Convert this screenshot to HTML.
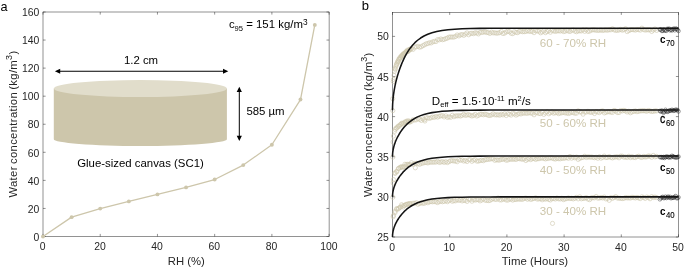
<!DOCTYPE html>
<html><head><meta charset="utf-8"><title>Figure</title>
<style>html,body{margin:0;padding:0;background:#fff;}body{width:685px;height:268px;overflow:hidden;}svg{display:block;will-change:transform;}text{font-family:"Liberation Sans",sans-serif;}</style>
</head><body>
<svg width="685" height="268" viewBox="0 0 685 268">
<rect x="0" y="0" width="685" height="268" fill="#ffffff"/>
<rect x="43.00" y="12.00" width="286.10" height="224.50" fill="none" stroke="#262626" stroke-width="0.5"/>
<path d="M43.00 236.50v-2.6M43.00 12.00v2.6M100.22 236.50v-2.6M100.22 12.00v2.6M157.44 236.50v-2.6M157.44 12.00v2.6M214.66 236.50v-2.6M214.66 12.00v2.6M271.88 236.50v-2.6M271.88 12.00v2.6M329.10 236.50v-2.6M329.10 12.00v2.6M43.00 236.50h2.6M329.10 236.50h-2.6M43.00 208.44h2.6M329.10 208.44h-2.6M43.00 180.38h2.6M329.10 180.38h-2.6M43.00 152.31h2.6M329.10 152.31h-2.6M43.00 124.25h2.6M329.10 124.25h-2.6M43.00 96.19h2.6M329.10 96.19h-2.6M43.00 68.12h2.6M329.10 68.12h-2.6M43.00 40.06h2.6M329.10 40.06h-2.6M43.00 12.00h2.6M329.10 12.00h-2.6" fill="none" stroke="#262626" stroke-width="0.5"/>
<path d="M53.8 88.6 L53.8 139.2 A86.55000000000001 6.9 0 0 0 226.9 139.2 L226.9 88.6 Z" fill="#cdc6ab"/>
<ellipse cx="140.35" cy="88.6" rx="86.55000000000001" ry="8.5" fill="#e1ddcb"/>
<polyline points="43.00,236.50 71.61,217.14 100.22,208.58 128.83,201.42 157.44,194.41 186.05,187.39 214.66,179.53 243.27,165.08 271.88,144.74 300.49,99.56 314.80,24.91" fill="none" stroke="#cdc6ab" stroke-width="1.3" stroke-linejoin="round"/>
<circle cx="43.00" cy="236.50" r="1.95" fill="#cdc6ab"/>
<circle cx="71.61" cy="217.14" r="1.95" fill="#cdc6ab"/>
<circle cx="100.22" cy="208.58" r="1.95" fill="#cdc6ab"/>
<circle cx="128.83" cy="201.42" r="1.95" fill="#cdc6ab"/>
<circle cx="157.44" cy="194.41" r="1.95" fill="#cdc6ab"/>
<circle cx="186.05" cy="187.39" r="1.95" fill="#cdc6ab"/>
<circle cx="214.66" cy="179.53" r="1.95" fill="#cdc6ab"/>
<circle cx="243.27" cy="165.08" r="1.95" fill="#cdc6ab"/>
<circle cx="271.88" cy="144.74" r="1.95" fill="#cdc6ab"/>
<circle cx="300.49" cy="99.56" r="1.95" fill="#cdc6ab"/>
<circle cx="314.80" cy="24.91" r="1.95" fill="#cdc6ab"/>
<text x="42.70" y="250.4" font-size="10.4" fill="#262626" text-anchor="middle">0</text>
<text x="99.92" y="250.4" font-size="10.4" fill="#262626" text-anchor="middle">20</text>
<text x="157.14" y="250.4" font-size="10.4" fill="#262626" text-anchor="middle">40</text>
<text x="214.36" y="250.4" font-size="10.4" fill="#262626" text-anchor="middle">60</text>
<text x="271.58" y="250.4" font-size="10.4" fill="#262626" text-anchor="middle">80</text>
<text x="328.80" y="250.4" font-size="10.4" fill="#262626" text-anchor="middle">100</text>
<text x="39.40" y="240.70" font-size="10.4" fill="#262626" text-anchor="end">0</text>
<text x="39.40" y="212.64" font-size="10.4" fill="#262626" text-anchor="end">20</text>
<text x="39.40" y="184.57" font-size="10.4" fill="#262626" text-anchor="end">40</text>
<text x="39.40" y="156.51" font-size="10.4" fill="#262626" text-anchor="end">60</text>
<text x="39.40" y="128.45" font-size="10.4" fill="#262626" text-anchor="end">80</text>
<text x="39.40" y="100.39" font-size="10.4" fill="#262626" text-anchor="end">100</text>
<text x="39.40" y="72.33" font-size="10.4" fill="#262626" text-anchor="end">120</text>
<text x="39.40" y="44.26" font-size="10.4" fill="#262626" text-anchor="end">140</text>
<text x="39.40" y="16.20" font-size="10.4" fill="#262626" text-anchor="end">160</text>
<text x="186.25" y="265.1" font-size="11.3" fill="#262626" text-anchor="middle">RH (%)</text>
<text transform="translate(17.4,197.6) rotate(-90)" font-size="11.3" fill="#262626" letter-spacing="0.33" word-spacing="-1.3">Water concentration (kg/m<tspan font-size="9" dy="-5.2">3</tspan><tspan dy="5.2">)</tspan></text>
<path d="M59.199999999999996 71.25H224.0" stroke="#000" stroke-width="1" fill="none"/><path d="M54.9 71.25l5.3 -2.6v5.2z M228.3 71.25l-5.3 -2.6v5.2z" fill="#000"/>
<path d="M239.3 91.1V136.7" stroke="#000" stroke-width="1" fill="none"/><path d="M239.3 86.8l-2.6 5.3h5.2z M239.3 141.0l-2.6 -5.3h5.2z" fill="#000"/>
<text x="141.0" y="64.4" font-size="11.4" fill="#000" text-anchor="middle">1.2 cm</text>
<text x="246.4" y="114.8" font-size="11.4" fill="#000">585 µm</text>
<text x="77.2" y="167" font-size="11.4" fill="#000">Glue-sized canvas (SC1)</text>
<text x="228.9" y="28.4" font-size="11.4" fill="#000">c<tspan font-size="7.6" dy="2.6">95</tspan><tspan dy="-2.6"> = 151 kg/m</tspan><tspan font-size="8.3" dy="-3.7">3</tspan></text>
<text x="0.5" y="10.8" font-size="12.7" fill="#000">a</text>
<rect x="392.50" y="12.30" width="286.00" height="224.70" fill="none" stroke="#262626" stroke-width="0.5"/>
<path d="M392.50 237.00v-2.6M392.50 12.30v2.6M449.70 237.00v-2.6M449.70 12.30v2.6M506.90 237.00v-2.6M506.90 12.30v2.6M564.10 237.00v-2.6M564.10 12.30v2.6M621.30 237.00v-2.6M621.30 12.30v2.6M678.50 237.00v-2.6M678.50 12.30v2.6M392.50 237.00h2.6M678.50 237.00h-2.6M392.50 196.88h2.6M678.50 196.88h-2.6M392.50 156.75h2.6M678.50 156.75h-2.6M392.50 116.62h2.6M678.50 116.62h-2.6M392.50 76.50h2.6M678.50 76.50h-2.6M392.50 36.38h2.6M678.50 36.38h-2.6" fill="none" stroke="#262626" stroke-width="0.5"/>
<path d="M391.38 79.46a2.1 2.1 0 1 0 4.2 0a2.1 2.1 0 1 0 -4.2 0M393.01 68.47a2.1 2.1 0 1 0 4.2 0a2.1 2.1 0 1 0 -4.2 0M394.65 64.18a2.1 2.1 0 1 0 4.2 0a2.1 2.1 0 1 0 -4.2 0M396.28 60.78a2.1 2.1 0 1 0 4.2 0a2.1 2.1 0 1 0 -4.2 0M397.92 58.23a2.1 2.1 0 1 0 4.2 0a2.1 2.1 0 1 0 -4.2 0M399.55 56.20a2.1 2.1 0 1 0 4.2 0a2.1 2.1 0 1 0 -4.2 0M401.19 53.91a2.1 2.1 0 1 0 4.2 0a2.1 2.1 0 1 0 -4.2 0M402.82 53.02a2.1 2.1 0 1 0 4.2 0a2.1 2.1 0 1 0 -4.2 0M404.45 51.38a2.1 2.1 0 1 0 4.2 0a2.1 2.1 0 1 0 -4.2 0M406.09 50.71a2.1 2.1 0 1 0 4.2 0a2.1 2.1 0 1 0 -4.2 0M407.72 49.49a2.1 2.1 0 1 0 4.2 0a2.1 2.1 0 1 0 -4.2 0M409.36 48.74a2.1 2.1 0 1 0 4.2 0a2.1 2.1 0 1 0 -4.2 0M410.99 49.34a2.1 2.1 0 1 0 4.2 0a2.1 2.1 0 1 0 -4.2 0M412.63 47.15a2.1 2.1 0 1 0 4.2 0a2.1 2.1 0 1 0 -4.2 0M414.26 46.83a2.1 2.1 0 1 0 4.2 0a2.1 2.1 0 1 0 -4.2 0M415.89 46.30a2.1 2.1 0 1 0 4.2 0a2.1 2.1 0 1 0 -4.2 0M417.53 47.19a2.1 2.1 0 1 0 4.2 0a2.1 2.1 0 1 0 -4.2 0M419.16 46.72a2.1 2.1 0 1 0 4.2 0a2.1 2.1 0 1 0 -4.2 0M420.80 45.64a2.1 2.1 0 1 0 4.2 0a2.1 2.1 0 1 0 -4.2 0M422.43 44.84a2.1 2.1 0 1 0 4.2 0a2.1 2.1 0 1 0 -4.2 0M424.07 43.83a2.1 2.1 0 1 0 4.2 0a2.1 2.1 0 1 0 -4.2 0M425.70 43.56a2.1 2.1 0 1 0 4.2 0a2.1 2.1 0 1 0 -4.2 0M427.33 42.70a2.1 2.1 0 1 0 4.2 0a2.1 2.1 0 1 0 -4.2 0M428.97 42.97a2.1 2.1 0 1 0 4.2 0a2.1 2.1 0 1 0 -4.2 0M430.60 41.89a2.1 2.1 0 1 0 4.2 0a2.1 2.1 0 1 0 -4.2 0M432.24 41.38a2.1 2.1 0 1 0 4.2 0a2.1 2.1 0 1 0 -4.2 0M433.87 41.60a2.1 2.1 0 1 0 4.2 0a2.1 2.1 0 1 0 -4.2 0M435.51 39.59a2.1 2.1 0 1 0 4.2 0a2.1 2.1 0 1 0 -4.2 0M437.14 39.87a2.1 2.1 0 1 0 4.2 0a2.1 2.1 0 1 0 -4.2 0M438.77 38.99a2.1 2.1 0 1 0 4.2 0a2.1 2.1 0 1 0 -4.2 0M440.41 39.70a2.1 2.1 0 1 0 4.2 0a2.1 2.1 0 1 0 -4.2 0M442.04 39.33a2.1 2.1 0 1 0 4.2 0a2.1 2.1 0 1 0 -4.2 0M443.68 38.63a2.1 2.1 0 1 0 4.2 0a2.1 2.1 0 1 0 -4.2 0M445.31 38.04a2.1 2.1 0 1 0 4.2 0a2.1 2.1 0 1 0 -4.2 0M446.95 37.14a2.1 2.1 0 1 0 4.2 0a2.1 2.1 0 1 0 -4.2 0M448.58 37.00a2.1 2.1 0 1 0 4.2 0a2.1 2.1 0 1 0 -4.2 0M450.21 37.09a2.1 2.1 0 1 0 4.2 0a2.1 2.1 0 1 0 -4.2 0M451.85 37.07a2.1 2.1 0 1 0 4.2 0a2.1 2.1 0 1 0 -4.2 0M453.48 36.44a2.1 2.1 0 1 0 4.2 0a2.1 2.1 0 1 0 -4.2 0M455.12 34.98a2.1 2.1 0 1 0 4.2 0a2.1 2.1 0 1 0 -4.2 0M456.75 35.94a2.1 2.1 0 1 0 4.2 0a2.1 2.1 0 1 0 -4.2 0M458.39 34.93a2.1 2.1 0 1 0 4.2 0a2.1 2.1 0 1 0 -4.2 0M460.02 34.49a2.1 2.1 0 1 0 4.2 0a2.1 2.1 0 1 0 -4.2 0M461.65 35.39a2.1 2.1 0 1 0 4.2 0a2.1 2.1 0 1 0 -4.2 0M463.29 34.08a2.1 2.1 0 1 0 4.2 0a2.1 2.1 0 1 0 -4.2 0M464.92 32.95a2.1 2.1 0 1 0 4.2 0a2.1 2.1 0 1 0 -4.2 0M466.56 34.77a2.1 2.1 0 1 0 4.2 0a2.1 2.1 0 1 0 -4.2 0M468.19 33.46a2.1 2.1 0 1 0 4.2 0a2.1 2.1 0 1 0 -4.2 0M469.83 33.27a2.1 2.1 0 1 0 4.2 0a2.1 2.1 0 1 0 -4.2 0M471.46 33.67a2.1 2.1 0 1 0 4.2 0a2.1 2.1 0 1 0 -4.2 0M473.09 32.77a2.1 2.1 0 1 0 4.2 0a2.1 2.1 0 1 0 -4.2 0M474.73 33.08a2.1 2.1 0 1 0 4.2 0a2.1 2.1 0 1 0 -4.2 0M476.36 33.92a2.1 2.1 0 1 0 4.2 0a2.1 2.1 0 1 0 -4.2 0M478.00 32.40a2.1 2.1 0 1 0 4.2 0a2.1 2.1 0 1 0 -4.2 0M479.63 32.45a2.1 2.1 0 1 0 4.2 0a2.1 2.1 0 1 0 -4.2 0M481.27 32.22a2.1 2.1 0 1 0 4.2 0a2.1 2.1 0 1 0 -4.2 0M482.90 31.85a2.1 2.1 0 1 0 4.2 0a2.1 2.1 0 1 0 -4.2 0M484.53 32.49a2.1 2.1 0 1 0 4.2 0a2.1 2.1 0 1 0 -4.2 0M486.17 32.60a2.1 2.1 0 1 0 4.2 0a2.1 2.1 0 1 0 -4.2 0M487.80 33.46a2.1 2.1 0 1 0 4.2 0a2.1 2.1 0 1 0 -4.2 0M489.44 32.18a2.1 2.1 0 1 0 4.2 0a2.1 2.1 0 1 0 -4.2 0M491.07 32.92a2.1 2.1 0 1 0 4.2 0a2.1 2.1 0 1 0 -4.2 0M492.71 32.77a2.1 2.1 0 1 0 4.2 0a2.1 2.1 0 1 0 -4.2 0M494.34 33.24a2.1 2.1 0 1 0 4.2 0a2.1 2.1 0 1 0 -4.2 0M495.97 33.00a2.1 2.1 0 1 0 4.2 0a2.1 2.1 0 1 0 -4.2 0M497.61 32.67a2.1 2.1 0 1 0 4.2 0a2.1 2.1 0 1 0 -4.2 0M499.24 31.46a2.1 2.1 0 1 0 4.2 0a2.1 2.1 0 1 0 -4.2 0M500.88 33.54a2.1 2.1 0 1 0 4.2 0a2.1 2.1 0 1 0 -4.2 0M502.51 33.13a2.1 2.1 0 1 0 4.2 0a2.1 2.1 0 1 0 -4.2 0M504.15 31.99a2.1 2.1 0 1 0 4.2 0a2.1 2.1 0 1 0 -4.2 0M505.78 31.18a2.1 2.1 0 1 0 4.2 0a2.1 2.1 0 1 0 -4.2 0M507.41 31.71a2.1 2.1 0 1 0 4.2 0a2.1 2.1 0 1 0 -4.2 0M509.05 33.27a2.1 2.1 0 1 0 4.2 0a2.1 2.1 0 1 0 -4.2 0M510.68 33.63a2.1 2.1 0 1 0 4.2 0a2.1 2.1 0 1 0 -4.2 0M512.32 31.76a2.1 2.1 0 1 0 4.2 0a2.1 2.1 0 1 0 -4.2 0M513.95 32.43a2.1 2.1 0 1 0 4.2 0a2.1 2.1 0 1 0 -4.2 0M515.59 32.65a2.1 2.1 0 1 0 4.2 0a2.1 2.1 0 1 0 -4.2 0M517.22 31.27a2.1 2.1 0 1 0 4.2 0a2.1 2.1 0 1 0 -4.2 0M518.85 31.16a2.1 2.1 0 1 0 4.2 0a2.1 2.1 0 1 0 -4.2 0M520.49 31.74a2.1 2.1 0 1 0 4.2 0a2.1 2.1 0 1 0 -4.2 0M522.12 31.66a2.1 2.1 0 1 0 4.2 0a2.1 2.1 0 1 0 -4.2 0M523.76 31.51a2.1 2.1 0 1 0 4.2 0a2.1 2.1 0 1 0 -4.2 0M525.39 30.73a2.1 2.1 0 1 0 4.2 0a2.1 2.1 0 1 0 -4.2 0M527.03 31.33a2.1 2.1 0 1 0 4.2 0a2.1 2.1 0 1 0 -4.2 0M528.66 31.37a2.1 2.1 0 1 0 4.2 0a2.1 2.1 0 1 0 -4.2 0M530.29 31.32a2.1 2.1 0 1 0 4.2 0a2.1 2.1 0 1 0 -4.2 0M531.93 32.65a2.1 2.1 0 1 0 4.2 0a2.1 2.1 0 1 0 -4.2 0M533.56 30.80a2.1 2.1 0 1 0 4.2 0a2.1 2.1 0 1 0 -4.2 0M535.20 30.98a2.1 2.1 0 1 0 4.2 0a2.1 2.1 0 1 0 -4.2 0M536.83 31.22a2.1 2.1 0 1 0 4.2 0a2.1 2.1 0 1 0 -4.2 0M538.47 32.80a2.1 2.1 0 1 0 4.2 0a2.1 2.1 0 1 0 -4.2 0M540.10 31.92a2.1 2.1 0 1 0 4.2 0a2.1 2.1 0 1 0 -4.2 0M541.73 30.94a2.1 2.1 0 1 0 4.2 0a2.1 2.1 0 1 0 -4.2 0M543.37 32.62a2.1 2.1 0 1 0 4.2 0a2.1 2.1 0 1 0 -4.2 0M545.00 31.55a2.1 2.1 0 1 0 4.2 0a2.1 2.1 0 1 0 -4.2 0M546.64 30.75a2.1 2.1 0 1 0 4.2 0a2.1 2.1 0 1 0 -4.2 0M548.27 32.22a2.1 2.1 0 1 0 4.2 0a2.1 2.1 0 1 0 -4.2 0M549.91 30.31a2.1 2.1 0 1 0 4.2 0a2.1 2.1 0 1 0 -4.2 0M551.54 30.95a2.1 2.1 0 1 0 4.2 0a2.1 2.1 0 1 0 -4.2 0M553.17 31.37a2.1 2.1 0 1 0 4.2 0a2.1 2.1 0 1 0 -4.2 0M554.81 31.03a2.1 2.1 0 1 0 4.2 0a2.1 2.1 0 1 0 -4.2 0M556.44 30.79a2.1 2.1 0 1 0 4.2 0a2.1 2.1 0 1 0 -4.2 0M558.08 31.09a2.1 2.1 0 1 0 4.2 0a2.1 2.1 0 1 0 -4.2 0M559.71 30.40a2.1 2.1 0 1 0 4.2 0a2.1 2.1 0 1 0 -4.2 0M561.35 31.53a2.1 2.1 0 1 0 4.2 0a2.1 2.1 0 1 0 -4.2 0M562.98 31.33a2.1 2.1 0 1 0 4.2 0a2.1 2.1 0 1 0 -4.2 0M564.61 30.36a2.1 2.1 0 1 0 4.2 0a2.1 2.1 0 1 0 -4.2 0M566.25 30.98a2.1 2.1 0 1 0 4.2 0a2.1 2.1 0 1 0 -4.2 0M567.88 31.53a2.1 2.1 0 1 0 4.2 0a2.1 2.1 0 1 0 -4.2 0M569.52 30.33a2.1 2.1 0 1 0 4.2 0a2.1 2.1 0 1 0 -4.2 0M571.15 29.96a2.1 2.1 0 1 0 4.2 0a2.1 2.1 0 1 0 -4.2 0M572.79 31.15a2.1 2.1 0 1 0 4.2 0a2.1 2.1 0 1 0 -4.2 0M574.42 31.72a2.1 2.1 0 1 0 4.2 0a2.1 2.1 0 1 0 -4.2 0M576.05 30.89a2.1 2.1 0 1 0 4.2 0a2.1 2.1 0 1 0 -4.2 0M577.69 30.87a2.1 2.1 0 1 0 4.2 0a2.1 2.1 0 1 0 -4.2 0M579.32 30.93a2.1 2.1 0 1 0 4.2 0a2.1 2.1 0 1 0 -4.2 0M580.96 29.81a2.1 2.1 0 1 0 4.2 0a2.1 2.1 0 1 0 -4.2 0M582.59 31.33a2.1 2.1 0 1 0 4.2 0a2.1 2.1 0 1 0 -4.2 0M584.23 29.83a2.1 2.1 0 1 0 4.2 0a2.1 2.1 0 1 0 -4.2 0M585.86 31.43a2.1 2.1 0 1 0 4.2 0a2.1 2.1 0 1 0 -4.2 0M587.49 31.09a2.1 2.1 0 1 0 4.2 0a2.1 2.1 0 1 0 -4.2 0M589.13 30.14a2.1 2.1 0 1 0 4.2 0a2.1 2.1 0 1 0 -4.2 0M590.76 29.79a2.1 2.1 0 1 0 4.2 0a2.1 2.1 0 1 0 -4.2 0M592.40 29.94a2.1 2.1 0 1 0 4.2 0a2.1 2.1 0 1 0 -4.2 0M594.03 30.23a2.1 2.1 0 1 0 4.2 0a2.1 2.1 0 1 0 -4.2 0M595.67 30.33a2.1 2.1 0 1 0 4.2 0a2.1 2.1 0 1 0 -4.2 0M597.30 30.30a2.1 2.1 0 1 0 4.2 0a2.1 2.1 0 1 0 -4.2 0M598.93 29.99a2.1 2.1 0 1 0 4.2 0a2.1 2.1 0 1 0 -4.2 0M600.57 30.45a2.1 2.1 0 1 0 4.2 0a2.1 2.1 0 1 0 -4.2 0M602.20 30.12a2.1 2.1 0 1 0 4.2 0a2.1 2.1 0 1 0 -4.2 0M603.84 29.90a2.1 2.1 0 1 0 4.2 0a2.1 2.1 0 1 0 -4.2 0M605.47 30.24a2.1 2.1 0 1 0 4.2 0a2.1 2.1 0 1 0 -4.2 0M607.11 29.72a2.1 2.1 0 1 0 4.2 0a2.1 2.1 0 1 0 -4.2 0M608.74 29.82a2.1 2.1 0 1 0 4.2 0a2.1 2.1 0 1 0 -4.2 0M610.37 28.86a2.1 2.1 0 1 0 4.2 0a2.1 2.1 0 1 0 -4.2 0M612.01 29.91a2.1 2.1 0 1 0 4.2 0a2.1 2.1 0 1 0 -4.2 0M613.64 30.37a2.1 2.1 0 1 0 4.2 0a2.1 2.1 0 1 0 -4.2 0M615.28 30.30a2.1 2.1 0 1 0 4.2 0a2.1 2.1 0 1 0 -4.2 0M616.91 30.04a2.1 2.1 0 1 0 4.2 0a2.1 2.1 0 1 0 -4.2 0M618.55 29.41a2.1 2.1 0 1 0 4.2 0a2.1 2.1 0 1 0 -4.2 0M620.18 30.20a2.1 2.1 0 1 0 4.2 0a2.1 2.1 0 1 0 -4.2 0M621.81 29.72a2.1 2.1 0 1 0 4.2 0a2.1 2.1 0 1 0 -4.2 0M623.45 28.77a2.1 2.1 0 1 0 4.2 0a2.1 2.1 0 1 0 -4.2 0M625.08 31.58a2.1 2.1 0 1 0 4.2 0a2.1 2.1 0 1 0 -4.2 0M626.72 30.64a2.1 2.1 0 1 0 4.2 0a2.1 2.1 0 1 0 -4.2 0M628.35 29.74a2.1 2.1 0 1 0 4.2 0a2.1 2.1 0 1 0 -4.2 0M629.99 29.62a2.1 2.1 0 1 0 4.2 0a2.1 2.1 0 1 0 -4.2 0M631.62 29.71a2.1 2.1 0 1 0 4.2 0a2.1 2.1 0 1 0 -4.2 0M633.25 30.12a2.1 2.1 0 1 0 4.2 0a2.1 2.1 0 1 0 -4.2 0M634.89 29.41a2.1 2.1 0 1 0 4.2 0a2.1 2.1 0 1 0 -4.2 0M636.52 29.63a2.1 2.1 0 1 0 4.2 0a2.1 2.1 0 1 0 -4.2 0M638.16 30.13a2.1 2.1 0 1 0 4.2 0a2.1 2.1 0 1 0 -4.2 0M639.79 28.22a2.1 2.1 0 1 0 4.2 0a2.1 2.1 0 1 0 -4.2 0M641.43 29.54a2.1 2.1 0 1 0 4.2 0a2.1 2.1 0 1 0 -4.2 0M643.06 30.10a2.1 2.1 0 1 0 4.2 0a2.1 2.1 0 1 0 -4.2 0M644.69 29.79a2.1 2.1 0 1 0 4.2 0a2.1 2.1 0 1 0 -4.2 0M646.33 29.86a2.1 2.1 0 1 0 4.2 0a2.1 2.1 0 1 0 -4.2 0M647.96 29.74a2.1 2.1 0 1 0 4.2 0a2.1 2.1 0 1 0 -4.2 0M649.60 31.43a2.1 2.1 0 1 0 4.2 0a2.1 2.1 0 1 0 -4.2 0M651.23 29.98a2.1 2.1 0 1 0 4.2 0a2.1 2.1 0 1 0 -4.2 0M652.87 29.00a2.1 2.1 0 1 0 4.2 0a2.1 2.1 0 1 0 -4.2 0M654.50 30.38a2.1 2.1 0 1 0 4.2 0a2.1 2.1 0 1 0 -4.2 0M390.63 98.72a2.1 2.1 0 1 0 4.2 0a2.1 2.1 0 1 0 -4.2 0M391.24 81.51a2.1 2.1 0 1 0 4.2 0a2.1 2.1 0 1 0 -4.2 0M391.85 75.33a2.1 2.1 0 1 0 4.2 0a2.1 2.1 0 1 0 -4.2 0M392.46 71.15a2.1 2.1 0 1 0 4.2 0a2.1 2.1 0 1 0 -4.2 0M393.07 69.35a2.1 2.1 0 1 0 4.2 0a2.1 2.1 0 1 0 -4.2 0M393.68 66.60a2.1 2.1 0 1 0 4.2 0a2.1 2.1 0 1 0 -4.2 0M394.29 65.06a2.1 2.1 0 1 0 4.2 0a2.1 2.1 0 1 0 -4.2 0M394.90 63.18a2.1 2.1 0 1 0 4.2 0a2.1 2.1 0 1 0 -4.2 0M395.51 61.63a2.1 2.1 0 1 0 4.2 0a2.1 2.1 0 1 0 -4.2 0M396.12 62.20a2.1 2.1 0 1 0 4.2 0a2.1 2.1 0 1 0 -4.2 0M396.73 59.20a2.1 2.1 0 1 0 4.2 0a2.1 2.1 0 1 0 -4.2 0M397.34 59.30a2.1 2.1 0 1 0 4.2 0a2.1 2.1 0 1 0 -4.2 0M397.95 57.27a2.1 2.1 0 1 0 4.2 0a2.1 2.1 0 1 0 -4.2 0M398.56 57.72a2.1 2.1 0 1 0 4.2 0a2.1 2.1 0 1 0 -4.2 0M399.17 56.33a2.1 2.1 0 1 0 4.2 0a2.1 2.1 0 1 0 -4.2 0M399.78 55.28a2.1 2.1 0 1 0 4.2 0a2.1 2.1 0 1 0 -4.2 0M400.39 55.38a2.1 2.1 0 1 0 4.2 0a2.1 2.1 0 1 0 -4.2 0M401.00 54.69a2.1 2.1 0 1 0 4.2 0a2.1 2.1 0 1 0 -4.2 0M401.61 53.88a2.1 2.1 0 1 0 4.2 0a2.1 2.1 0 1 0 -4.2 0M402.22 53.70a2.1 2.1 0 1 0 4.2 0a2.1 2.1 0 1 0 -4.2 0M402.83 53.33a2.1 2.1 0 1 0 4.2 0a2.1 2.1 0 1 0 -4.2 0M403.44 52.07a2.1 2.1 0 1 0 4.2 0a2.1 2.1 0 1 0 -4.2 0M404.05 51.84a2.1 2.1 0 1 0 4.2 0a2.1 2.1 0 1 0 -4.2 0M404.66 52.03a2.1 2.1 0 1 0 4.2 0a2.1 2.1 0 1 0 -4.2 0M405.27 50.13a2.1 2.1 0 1 0 4.2 0a2.1 2.1 0 1 0 -4.2 0M405.88 51.56a2.1 2.1 0 1 0 4.2 0a2.1 2.1 0 1 0 -4.2 0M406.49 50.15a2.1 2.1 0 1 0 4.2 0a2.1 2.1 0 1 0 -4.2 0M407.10 50.30a2.1 2.1 0 1 0 4.2 0a2.1 2.1 0 1 0 -4.2 0M407.71 49.69a2.1 2.1 0 1 0 4.2 0a2.1 2.1 0 1 0 -4.2 0M408.32 49.01a2.1 2.1 0 1 0 4.2 0a2.1 2.1 0 1 0 -4.2 0M390.69 110.61a2.1 2.1 0 1 0 4.2 0a2.1 2.1 0 1 0 -4.2 0" fill="none" stroke="#cdc6ab" stroke-width="0.6" stroke-opacity="1"/>
<path d="M658.06 29.65a1.85 1.85 0 1 0 3.7 0a1.85 1.85 0 1 0 -3.7 0M658.99 29.35a1.85 1.85 0 1 0 3.7 0a1.85 1.85 0 1 0 -3.7 0M659.92 30.82a1.85 1.85 0 1 0 3.7 0a1.85 1.85 0 1 0 -3.7 0M660.85 30.80a1.85 1.85 0 1 0 3.7 0a1.85 1.85 0 1 0 -3.7 0M661.78 29.34a1.85 1.85 0 1 0 3.7 0a1.85 1.85 0 1 0 -3.7 0M662.71 30.41a1.85 1.85 0 1 0 3.7 0a1.85 1.85 0 1 0 -3.7 0M663.64 30.45a1.85 1.85 0 1 0 3.7 0a1.85 1.85 0 1 0 -3.7 0M664.57 30.74a1.85 1.85 0 1 0 3.7 0a1.85 1.85 0 1 0 -3.7 0M665.50 28.86a1.85 1.85 0 1 0 3.7 0a1.85 1.85 0 1 0 -3.7 0M666.43 29.21a1.85 1.85 0 1 0 3.7 0a1.85 1.85 0 1 0 -3.7 0M667.35 28.70a1.85 1.85 0 1 0 3.7 0a1.85 1.85 0 1 0 -3.7 0M668.28 30.34a1.85 1.85 0 1 0 3.7 0a1.85 1.85 0 1 0 -3.7 0M669.21 29.69a1.85 1.85 0 1 0 3.7 0a1.85 1.85 0 1 0 -3.7 0M670.14 30.46a1.85 1.85 0 1 0 3.7 0a1.85 1.85 0 1 0 -3.7 0M671.07 29.15a1.85 1.85 0 1 0 3.7 0a1.85 1.85 0 1 0 -3.7 0M672.00 28.58a1.85 1.85 0 1 0 3.7 0a1.85 1.85 0 1 0 -3.7 0M672.93 30.26a1.85 1.85 0 1 0 3.7 0a1.85 1.85 0 1 0 -3.7 0M673.86 28.58a1.85 1.85 0 1 0 3.7 0a1.85 1.85 0 1 0 -3.7 0M674.79 28.96a1.85 1.85 0 1 0 3.7 0a1.85 1.85 0 1 0 -3.7 0M675.72 29.75a1.85 1.85 0 1 0 3.7 0a1.85 1.85 0 1 0 -3.7 0M676.65 30.96a1.85 1.85 0 1 0 3.7 0a1.85 1.85 0 1 0 -3.7 0" fill="none" stroke="#1a1a1a" stroke-width="0.4"/>
<path d="M391.38 136.06a2.1 2.1 0 1 0 4.2 0a2.1 2.1 0 1 0 -4.2 0M393.01 129.50a2.1 2.1 0 1 0 4.2 0a2.1 2.1 0 1 0 -4.2 0M394.65 128.04a2.1 2.1 0 1 0 4.2 0a2.1 2.1 0 1 0 -4.2 0M396.28 126.07a2.1 2.1 0 1 0 4.2 0a2.1 2.1 0 1 0 -4.2 0M397.92 124.91a2.1 2.1 0 1 0 4.2 0a2.1 2.1 0 1 0 -4.2 0M399.55 123.29a2.1 2.1 0 1 0 4.2 0a2.1 2.1 0 1 0 -4.2 0M401.19 124.07a2.1 2.1 0 1 0 4.2 0a2.1 2.1 0 1 0 -4.2 0M402.82 121.91a2.1 2.1 0 1 0 4.2 0a2.1 2.1 0 1 0 -4.2 0M404.45 121.17a2.1 2.1 0 1 0 4.2 0a2.1 2.1 0 1 0 -4.2 0M406.09 120.73a2.1 2.1 0 1 0 4.2 0a2.1 2.1 0 1 0 -4.2 0M407.72 121.34a2.1 2.1 0 1 0 4.2 0a2.1 2.1 0 1 0 -4.2 0M409.36 121.28a2.1 2.1 0 1 0 4.2 0a2.1 2.1 0 1 0 -4.2 0M410.99 119.80a2.1 2.1 0 1 0 4.2 0a2.1 2.1 0 1 0 -4.2 0M412.63 120.07a2.1 2.1 0 1 0 4.2 0a2.1 2.1 0 1 0 -4.2 0M414.26 119.76a2.1 2.1 0 1 0 4.2 0a2.1 2.1 0 1 0 -4.2 0M415.89 118.63a2.1 2.1 0 1 0 4.2 0a2.1 2.1 0 1 0 -4.2 0M417.53 119.43a2.1 2.1 0 1 0 4.2 0a2.1 2.1 0 1 0 -4.2 0M419.16 120.46a2.1 2.1 0 1 0 4.2 0a2.1 2.1 0 1 0 -4.2 0M420.80 118.96a2.1 2.1 0 1 0 4.2 0a2.1 2.1 0 1 0 -4.2 0M422.43 119.67a2.1 2.1 0 1 0 4.2 0a2.1 2.1 0 1 0 -4.2 0M424.07 117.77a2.1 2.1 0 1 0 4.2 0a2.1 2.1 0 1 0 -4.2 0M425.70 117.91a2.1 2.1 0 1 0 4.2 0a2.1 2.1 0 1 0 -4.2 0M427.33 118.34a2.1 2.1 0 1 0 4.2 0a2.1 2.1 0 1 0 -4.2 0M428.97 117.78a2.1 2.1 0 1 0 4.2 0a2.1 2.1 0 1 0 -4.2 0M430.60 117.07a2.1 2.1 0 1 0 4.2 0a2.1 2.1 0 1 0 -4.2 0M432.24 117.39a2.1 2.1 0 1 0 4.2 0a2.1 2.1 0 1 0 -4.2 0M433.87 116.43a2.1 2.1 0 1 0 4.2 0a2.1 2.1 0 1 0 -4.2 0M435.51 117.16a2.1 2.1 0 1 0 4.2 0a2.1 2.1 0 1 0 -4.2 0M437.14 116.30a2.1 2.1 0 1 0 4.2 0a2.1 2.1 0 1 0 -4.2 0M438.77 115.86a2.1 2.1 0 1 0 4.2 0a2.1 2.1 0 1 0 -4.2 0M440.41 115.64a2.1 2.1 0 1 0 4.2 0a2.1 2.1 0 1 0 -4.2 0M442.04 116.95a2.1 2.1 0 1 0 4.2 0a2.1 2.1 0 1 0 -4.2 0M443.68 115.81a2.1 2.1 0 1 0 4.2 0a2.1 2.1 0 1 0 -4.2 0M445.31 117.44a2.1 2.1 0 1 0 4.2 0a2.1 2.1 0 1 0 -4.2 0M446.95 116.84a2.1 2.1 0 1 0 4.2 0a2.1 2.1 0 1 0 -4.2 0M448.58 117.33a2.1 2.1 0 1 0 4.2 0a2.1 2.1 0 1 0 -4.2 0M450.21 115.31a2.1 2.1 0 1 0 4.2 0a2.1 2.1 0 1 0 -4.2 0M451.85 116.71a2.1 2.1 0 1 0 4.2 0a2.1 2.1 0 1 0 -4.2 0M453.48 115.86a2.1 2.1 0 1 0 4.2 0a2.1 2.1 0 1 0 -4.2 0M455.12 115.90a2.1 2.1 0 1 0 4.2 0a2.1 2.1 0 1 0 -4.2 0M456.75 115.72a2.1 2.1 0 1 0 4.2 0a2.1 2.1 0 1 0 -4.2 0M458.39 116.01a2.1 2.1 0 1 0 4.2 0a2.1 2.1 0 1 0 -4.2 0M460.02 115.42a2.1 2.1 0 1 0 4.2 0a2.1 2.1 0 1 0 -4.2 0M461.65 114.35a2.1 2.1 0 1 0 4.2 0a2.1 2.1 0 1 0 -4.2 0M463.29 115.40a2.1 2.1 0 1 0 4.2 0a2.1 2.1 0 1 0 -4.2 0M464.92 115.02a2.1 2.1 0 1 0 4.2 0a2.1 2.1 0 1 0 -4.2 0M466.56 114.65a2.1 2.1 0 1 0 4.2 0a2.1 2.1 0 1 0 -4.2 0M468.19 115.36a2.1 2.1 0 1 0 4.2 0a2.1 2.1 0 1 0 -4.2 0M469.83 115.98a2.1 2.1 0 1 0 4.2 0a2.1 2.1 0 1 0 -4.2 0M471.46 115.47a2.1 2.1 0 1 0 4.2 0a2.1 2.1 0 1 0 -4.2 0M473.09 114.36a2.1 2.1 0 1 0 4.2 0a2.1 2.1 0 1 0 -4.2 0M474.73 116.05a2.1 2.1 0 1 0 4.2 0a2.1 2.1 0 1 0 -4.2 0M476.36 115.32a2.1 2.1 0 1 0 4.2 0a2.1 2.1 0 1 0 -4.2 0M478.00 114.23a2.1 2.1 0 1 0 4.2 0a2.1 2.1 0 1 0 -4.2 0M479.63 114.31a2.1 2.1 0 1 0 4.2 0a2.1 2.1 0 1 0 -4.2 0M481.27 114.76a2.1 2.1 0 1 0 4.2 0a2.1 2.1 0 1 0 -4.2 0M482.90 114.19a2.1 2.1 0 1 0 4.2 0a2.1 2.1 0 1 0 -4.2 0M484.53 114.54a2.1 2.1 0 1 0 4.2 0a2.1 2.1 0 1 0 -4.2 0M486.17 115.35a2.1 2.1 0 1 0 4.2 0a2.1 2.1 0 1 0 -4.2 0M487.80 115.54a2.1 2.1 0 1 0 4.2 0a2.1 2.1 0 1 0 -4.2 0M489.44 114.89a2.1 2.1 0 1 0 4.2 0a2.1 2.1 0 1 0 -4.2 0M491.07 113.84a2.1 2.1 0 1 0 4.2 0a2.1 2.1 0 1 0 -4.2 0M492.71 114.74a2.1 2.1 0 1 0 4.2 0a2.1 2.1 0 1 0 -4.2 0M494.34 114.90a2.1 2.1 0 1 0 4.2 0a2.1 2.1 0 1 0 -4.2 0M495.97 114.76a2.1 2.1 0 1 0 4.2 0a2.1 2.1 0 1 0 -4.2 0M497.61 115.20a2.1 2.1 0 1 0 4.2 0a2.1 2.1 0 1 0 -4.2 0M499.24 114.24a2.1 2.1 0 1 0 4.2 0a2.1 2.1 0 1 0 -4.2 0M500.88 114.87a2.1 2.1 0 1 0 4.2 0a2.1 2.1 0 1 0 -4.2 0M502.51 113.83a2.1 2.1 0 1 0 4.2 0a2.1 2.1 0 1 0 -4.2 0M504.15 115.53a2.1 2.1 0 1 0 4.2 0a2.1 2.1 0 1 0 -4.2 0M505.78 113.75a2.1 2.1 0 1 0 4.2 0a2.1 2.1 0 1 0 -4.2 0M507.41 114.32a2.1 2.1 0 1 0 4.2 0a2.1 2.1 0 1 0 -4.2 0M509.05 115.11a2.1 2.1 0 1 0 4.2 0a2.1 2.1 0 1 0 -4.2 0M510.68 113.35a2.1 2.1 0 1 0 4.2 0a2.1 2.1 0 1 0 -4.2 0M512.32 113.95a2.1 2.1 0 1 0 4.2 0a2.1 2.1 0 1 0 -4.2 0M513.95 115.17a2.1 2.1 0 1 0 4.2 0a2.1 2.1 0 1 0 -4.2 0M515.59 114.27a2.1 2.1 0 1 0 4.2 0a2.1 2.1 0 1 0 -4.2 0M517.22 113.50a2.1 2.1 0 1 0 4.2 0a2.1 2.1 0 1 0 -4.2 0M518.85 113.95a2.1 2.1 0 1 0 4.2 0a2.1 2.1 0 1 0 -4.2 0M520.49 113.13a2.1 2.1 0 1 0 4.2 0a2.1 2.1 0 1 0 -4.2 0M522.12 113.12a2.1 2.1 0 1 0 4.2 0a2.1 2.1 0 1 0 -4.2 0M523.76 113.15a2.1 2.1 0 1 0 4.2 0a2.1 2.1 0 1 0 -4.2 0M525.39 113.34a2.1 2.1 0 1 0 4.2 0a2.1 2.1 0 1 0 -4.2 0M527.03 112.66a2.1 2.1 0 1 0 4.2 0a2.1 2.1 0 1 0 -4.2 0M528.66 113.07a2.1 2.1 0 1 0 4.2 0a2.1 2.1 0 1 0 -4.2 0M530.29 113.18a2.1 2.1 0 1 0 4.2 0a2.1 2.1 0 1 0 -4.2 0M531.93 114.78a2.1 2.1 0 1 0 4.2 0a2.1 2.1 0 1 0 -4.2 0M533.56 112.84a2.1 2.1 0 1 0 4.2 0a2.1 2.1 0 1 0 -4.2 0M535.20 112.55a2.1 2.1 0 1 0 4.2 0a2.1 2.1 0 1 0 -4.2 0M536.83 113.55a2.1 2.1 0 1 0 4.2 0a2.1 2.1 0 1 0 -4.2 0M538.47 113.64a2.1 2.1 0 1 0 4.2 0a2.1 2.1 0 1 0 -4.2 0M540.10 112.06a2.1 2.1 0 1 0 4.2 0a2.1 2.1 0 1 0 -4.2 0M541.73 114.41a2.1 2.1 0 1 0 4.2 0a2.1 2.1 0 1 0 -4.2 0M543.37 112.96a2.1 2.1 0 1 0 4.2 0a2.1 2.1 0 1 0 -4.2 0M545.00 111.68a2.1 2.1 0 1 0 4.2 0a2.1 2.1 0 1 0 -4.2 0M546.64 113.80a2.1 2.1 0 1 0 4.2 0a2.1 2.1 0 1 0 -4.2 0M548.27 112.74a2.1 2.1 0 1 0 4.2 0a2.1 2.1 0 1 0 -4.2 0M549.91 111.94a2.1 2.1 0 1 0 4.2 0a2.1 2.1 0 1 0 -4.2 0M551.54 113.21a2.1 2.1 0 1 0 4.2 0a2.1 2.1 0 1 0 -4.2 0M553.17 112.75a2.1 2.1 0 1 0 4.2 0a2.1 2.1 0 1 0 -4.2 0M554.81 112.50a2.1 2.1 0 1 0 4.2 0a2.1 2.1 0 1 0 -4.2 0M556.44 113.64a2.1 2.1 0 1 0 4.2 0a2.1 2.1 0 1 0 -4.2 0M558.08 113.09a2.1 2.1 0 1 0 4.2 0a2.1 2.1 0 1 0 -4.2 0M559.71 112.81a2.1 2.1 0 1 0 4.2 0a2.1 2.1 0 1 0 -4.2 0M561.35 112.43a2.1 2.1 0 1 0 4.2 0a2.1 2.1 0 1 0 -4.2 0M562.98 112.94a2.1 2.1 0 1 0 4.2 0a2.1 2.1 0 1 0 -4.2 0M564.61 113.01a2.1 2.1 0 1 0 4.2 0a2.1 2.1 0 1 0 -4.2 0M566.25 113.50a2.1 2.1 0 1 0 4.2 0a2.1 2.1 0 1 0 -4.2 0M567.88 113.04a2.1 2.1 0 1 0 4.2 0a2.1 2.1 0 1 0 -4.2 0M569.52 112.20a2.1 2.1 0 1 0 4.2 0a2.1 2.1 0 1 0 -4.2 0M571.15 112.67a2.1 2.1 0 1 0 4.2 0a2.1 2.1 0 1 0 -4.2 0M572.79 113.24a2.1 2.1 0 1 0 4.2 0a2.1 2.1 0 1 0 -4.2 0M574.42 113.20a2.1 2.1 0 1 0 4.2 0a2.1 2.1 0 1 0 -4.2 0M576.05 110.91a2.1 2.1 0 1 0 4.2 0a2.1 2.1 0 1 0 -4.2 0M577.69 111.85a2.1 2.1 0 1 0 4.2 0a2.1 2.1 0 1 0 -4.2 0M579.32 112.14a2.1 2.1 0 1 0 4.2 0a2.1 2.1 0 1 0 -4.2 0M580.96 114.18a2.1 2.1 0 1 0 4.2 0a2.1 2.1 0 1 0 -4.2 0M582.59 112.08a2.1 2.1 0 1 0 4.2 0a2.1 2.1 0 1 0 -4.2 0M584.23 112.13a2.1 2.1 0 1 0 4.2 0a2.1 2.1 0 1 0 -4.2 0M585.86 111.33a2.1 2.1 0 1 0 4.2 0a2.1 2.1 0 1 0 -4.2 0M587.49 112.10a2.1 2.1 0 1 0 4.2 0a2.1 2.1 0 1 0 -4.2 0M589.13 112.38a2.1 2.1 0 1 0 4.2 0a2.1 2.1 0 1 0 -4.2 0M590.76 111.97a2.1 2.1 0 1 0 4.2 0a2.1 2.1 0 1 0 -4.2 0M592.40 113.51a2.1 2.1 0 1 0 4.2 0a2.1 2.1 0 1 0 -4.2 0M594.03 111.57a2.1 2.1 0 1 0 4.2 0a2.1 2.1 0 1 0 -4.2 0M595.67 111.99a2.1 2.1 0 1 0 4.2 0a2.1 2.1 0 1 0 -4.2 0M597.30 112.61a2.1 2.1 0 1 0 4.2 0a2.1 2.1 0 1 0 -4.2 0M598.93 111.27a2.1 2.1 0 1 0 4.2 0a2.1 2.1 0 1 0 -4.2 0M600.57 110.92a2.1 2.1 0 1 0 4.2 0a2.1 2.1 0 1 0 -4.2 0M602.20 112.94a2.1 2.1 0 1 0 4.2 0a2.1 2.1 0 1 0 -4.2 0M603.84 112.43a2.1 2.1 0 1 0 4.2 0a2.1 2.1 0 1 0 -4.2 0M605.47 111.77a2.1 2.1 0 1 0 4.2 0a2.1 2.1 0 1 0 -4.2 0M607.11 111.80a2.1 2.1 0 1 0 4.2 0a2.1 2.1 0 1 0 -4.2 0M608.74 112.13a2.1 2.1 0 1 0 4.2 0a2.1 2.1 0 1 0 -4.2 0M610.37 112.46a2.1 2.1 0 1 0 4.2 0a2.1 2.1 0 1 0 -4.2 0M612.01 110.43a2.1 2.1 0 1 0 4.2 0a2.1 2.1 0 1 0 -4.2 0M613.64 111.09a2.1 2.1 0 1 0 4.2 0a2.1 2.1 0 1 0 -4.2 0M615.28 112.48a2.1 2.1 0 1 0 4.2 0a2.1 2.1 0 1 0 -4.2 0M616.91 112.54a2.1 2.1 0 1 0 4.2 0a2.1 2.1 0 1 0 -4.2 0M618.55 110.54a2.1 2.1 0 1 0 4.2 0a2.1 2.1 0 1 0 -4.2 0M620.18 110.96a2.1 2.1 0 1 0 4.2 0a2.1 2.1 0 1 0 -4.2 0M621.81 110.38a2.1 2.1 0 1 0 4.2 0a2.1 2.1 0 1 0 -4.2 0M623.45 110.99a2.1 2.1 0 1 0 4.2 0a2.1 2.1 0 1 0 -4.2 0M625.08 112.03a2.1 2.1 0 1 0 4.2 0a2.1 2.1 0 1 0 -4.2 0M626.72 111.27a2.1 2.1 0 1 0 4.2 0a2.1 2.1 0 1 0 -4.2 0M628.35 112.78a2.1 2.1 0 1 0 4.2 0a2.1 2.1 0 1 0 -4.2 0M629.99 111.84a2.1 2.1 0 1 0 4.2 0a2.1 2.1 0 1 0 -4.2 0M631.62 111.36a2.1 2.1 0 1 0 4.2 0a2.1 2.1 0 1 0 -4.2 0M633.25 110.94a2.1 2.1 0 1 0 4.2 0a2.1 2.1 0 1 0 -4.2 0M634.89 111.71a2.1 2.1 0 1 0 4.2 0a2.1 2.1 0 1 0 -4.2 0M636.52 111.28a2.1 2.1 0 1 0 4.2 0a2.1 2.1 0 1 0 -4.2 0M638.16 110.87a2.1 2.1 0 1 0 4.2 0a2.1 2.1 0 1 0 -4.2 0M639.79 110.89a2.1 2.1 0 1 0 4.2 0a2.1 2.1 0 1 0 -4.2 0M641.43 110.70a2.1 2.1 0 1 0 4.2 0a2.1 2.1 0 1 0 -4.2 0M643.06 110.94a2.1 2.1 0 1 0 4.2 0a2.1 2.1 0 1 0 -4.2 0M644.69 111.26a2.1 2.1 0 1 0 4.2 0a2.1 2.1 0 1 0 -4.2 0M646.33 110.51a2.1 2.1 0 1 0 4.2 0a2.1 2.1 0 1 0 -4.2 0M647.96 110.96a2.1 2.1 0 1 0 4.2 0a2.1 2.1 0 1 0 -4.2 0M649.60 111.49a2.1 2.1 0 1 0 4.2 0a2.1 2.1 0 1 0 -4.2 0M651.23 111.34a2.1 2.1 0 1 0 4.2 0a2.1 2.1 0 1 0 -4.2 0M652.87 110.91a2.1 2.1 0 1 0 4.2 0a2.1 2.1 0 1 0 -4.2 0M654.50 110.95a2.1 2.1 0 1 0 4.2 0a2.1 2.1 0 1 0 -4.2 0M390.96 142.00a2.1 2.1 0 1 0 4.2 0a2.1 2.1 0 1 0 -4.2 0M392.49 131.26a2.1 2.1 0 1 0 4.2 0a2.1 2.1 0 1 0 -4.2 0M394.02 128.15a2.1 2.1 0 1 0 4.2 0a2.1 2.1 0 1 0 -4.2 0M395.54 126.97a2.1 2.1 0 1 0 4.2 0a2.1 2.1 0 1 0 -4.2 0M397.07 126.36a2.1 2.1 0 1 0 4.2 0a2.1 2.1 0 1 0 -4.2 0M398.59 124.58a2.1 2.1 0 1 0 4.2 0a2.1 2.1 0 1 0 -4.2 0M400.12 123.45a2.1 2.1 0 1 0 4.2 0a2.1 2.1 0 1 0 -4.2 0M401.64 122.98a2.1 2.1 0 1 0 4.2 0a2.1 2.1 0 1 0 -4.2 0M403.17 122.60a2.1 2.1 0 1 0 4.2 0a2.1 2.1 0 1 0 -4.2 0M404.69 121.84a2.1 2.1 0 1 0 4.2 0a2.1 2.1 0 1 0 -4.2 0M406.22 122.09a2.1 2.1 0 1 0 4.2 0a2.1 2.1 0 1 0 -4.2 0M407.74 122.13a2.1 2.1 0 1 0 4.2 0a2.1 2.1 0 1 0 -4.2 0M390.69 157.15a2.1 2.1 0 1 0 4.2 0a2.1 2.1 0 1 0 -4.2 0" fill="none" stroke="#cdc6ab" stroke-width="0.6" stroke-opacity="1"/>
<path d="M658.06 110.98a1.85 1.85 0 1 0 3.7 0a1.85 1.85 0 1 0 -3.7 0M658.99 111.64a1.85 1.85 0 1 0 3.7 0a1.85 1.85 0 1 0 -3.7 0M659.92 110.49a1.85 1.85 0 1 0 3.7 0a1.85 1.85 0 1 0 -3.7 0M660.85 111.71a1.85 1.85 0 1 0 3.7 0a1.85 1.85 0 1 0 -3.7 0M661.78 112.75a1.85 1.85 0 1 0 3.7 0a1.85 1.85 0 1 0 -3.7 0M662.71 111.65a1.85 1.85 0 1 0 3.7 0a1.85 1.85 0 1 0 -3.7 0M663.64 109.85a1.85 1.85 0 1 0 3.7 0a1.85 1.85 0 1 0 -3.7 0M664.57 111.17a1.85 1.85 0 1 0 3.7 0a1.85 1.85 0 1 0 -3.7 0M665.50 111.83a1.85 1.85 0 1 0 3.7 0a1.85 1.85 0 1 0 -3.7 0M666.43 111.40a1.85 1.85 0 1 0 3.7 0a1.85 1.85 0 1 0 -3.7 0M667.35 110.51a1.85 1.85 0 1 0 3.7 0a1.85 1.85 0 1 0 -3.7 0M668.28 110.51a1.85 1.85 0 1 0 3.7 0a1.85 1.85 0 1 0 -3.7 0M669.21 110.71a1.85 1.85 0 1 0 3.7 0a1.85 1.85 0 1 0 -3.7 0M670.14 109.81a1.85 1.85 0 1 0 3.7 0a1.85 1.85 0 1 0 -3.7 0M671.07 110.32a1.85 1.85 0 1 0 3.7 0a1.85 1.85 0 1 0 -3.7 0M672.00 110.80a1.85 1.85 0 1 0 3.7 0a1.85 1.85 0 1 0 -3.7 0M672.93 110.37a1.85 1.85 0 1 0 3.7 0a1.85 1.85 0 1 0 -3.7 0M673.86 109.63a1.85 1.85 0 1 0 3.7 0a1.85 1.85 0 1 0 -3.7 0M674.79 110.08a1.85 1.85 0 1 0 3.7 0a1.85 1.85 0 1 0 -3.7 0M675.72 110.03a1.85 1.85 0 1 0 3.7 0a1.85 1.85 0 1 0 -3.7 0M676.65 111.45a1.85 1.85 0 1 0 3.7 0a1.85 1.85 0 1 0 -3.7 0" fill="none" stroke="#1a1a1a" stroke-width="0.4"/>
<path d="M391.38 179.66a2.1 2.1 0 1 0 4.2 0a2.1 2.1 0 1 0 -4.2 0M393.01 172.71a2.1 2.1 0 1 0 4.2 0a2.1 2.1 0 1 0 -4.2 0M394.65 171.27a2.1 2.1 0 1 0 4.2 0a2.1 2.1 0 1 0 -4.2 0M396.28 168.75a2.1 2.1 0 1 0 4.2 0a2.1 2.1 0 1 0 -4.2 0M397.92 167.65a2.1 2.1 0 1 0 4.2 0a2.1 2.1 0 1 0 -4.2 0M399.55 166.68a2.1 2.1 0 1 0 4.2 0a2.1 2.1 0 1 0 -4.2 0M401.19 166.70a2.1 2.1 0 1 0 4.2 0a2.1 2.1 0 1 0 -4.2 0M402.82 164.28a2.1 2.1 0 1 0 4.2 0a2.1 2.1 0 1 0 -4.2 0M404.45 164.51a2.1 2.1 0 1 0 4.2 0a2.1 2.1 0 1 0 -4.2 0M406.09 164.92a2.1 2.1 0 1 0 4.2 0a2.1 2.1 0 1 0 -4.2 0M407.72 164.51a2.1 2.1 0 1 0 4.2 0a2.1 2.1 0 1 0 -4.2 0M409.36 162.71a2.1 2.1 0 1 0 4.2 0a2.1 2.1 0 1 0 -4.2 0M410.99 164.40a2.1 2.1 0 1 0 4.2 0a2.1 2.1 0 1 0 -4.2 0M412.63 163.44a2.1 2.1 0 1 0 4.2 0a2.1 2.1 0 1 0 -4.2 0M414.26 163.24a2.1 2.1 0 1 0 4.2 0a2.1 2.1 0 1 0 -4.2 0M415.89 163.73a2.1 2.1 0 1 0 4.2 0a2.1 2.1 0 1 0 -4.2 0M417.53 164.36a2.1 2.1 0 1 0 4.2 0a2.1 2.1 0 1 0 -4.2 0M419.16 163.37a2.1 2.1 0 1 0 4.2 0a2.1 2.1 0 1 0 -4.2 0M420.80 163.14a2.1 2.1 0 1 0 4.2 0a2.1 2.1 0 1 0 -4.2 0M422.43 162.53a2.1 2.1 0 1 0 4.2 0a2.1 2.1 0 1 0 -4.2 0M424.07 162.61a2.1 2.1 0 1 0 4.2 0a2.1 2.1 0 1 0 -4.2 0M425.70 162.89a2.1 2.1 0 1 0 4.2 0a2.1 2.1 0 1 0 -4.2 0M427.33 162.16a2.1 2.1 0 1 0 4.2 0a2.1 2.1 0 1 0 -4.2 0M428.97 162.17a2.1 2.1 0 1 0 4.2 0a2.1 2.1 0 1 0 -4.2 0M430.60 162.19a2.1 2.1 0 1 0 4.2 0a2.1 2.1 0 1 0 -4.2 0M432.24 162.10a2.1 2.1 0 1 0 4.2 0a2.1 2.1 0 1 0 -4.2 0M433.87 162.11a2.1 2.1 0 1 0 4.2 0a2.1 2.1 0 1 0 -4.2 0M435.51 161.41a2.1 2.1 0 1 0 4.2 0a2.1 2.1 0 1 0 -4.2 0M437.14 162.43a2.1 2.1 0 1 0 4.2 0a2.1 2.1 0 1 0 -4.2 0M438.77 162.07a2.1 2.1 0 1 0 4.2 0a2.1 2.1 0 1 0 -4.2 0M440.41 161.57a2.1 2.1 0 1 0 4.2 0a2.1 2.1 0 1 0 -4.2 0M442.04 162.42a2.1 2.1 0 1 0 4.2 0a2.1 2.1 0 1 0 -4.2 0M443.68 161.67a2.1 2.1 0 1 0 4.2 0a2.1 2.1 0 1 0 -4.2 0M445.31 162.59a2.1 2.1 0 1 0 4.2 0a2.1 2.1 0 1 0 -4.2 0M446.95 161.66a2.1 2.1 0 1 0 4.2 0a2.1 2.1 0 1 0 -4.2 0M448.58 160.77a2.1 2.1 0 1 0 4.2 0a2.1 2.1 0 1 0 -4.2 0M450.21 160.68a2.1 2.1 0 1 0 4.2 0a2.1 2.1 0 1 0 -4.2 0M451.85 161.00a2.1 2.1 0 1 0 4.2 0a2.1 2.1 0 1 0 -4.2 0M453.48 161.03a2.1 2.1 0 1 0 4.2 0a2.1 2.1 0 1 0 -4.2 0M455.12 161.71a2.1 2.1 0 1 0 4.2 0a2.1 2.1 0 1 0 -4.2 0M456.75 159.55a2.1 2.1 0 1 0 4.2 0a2.1 2.1 0 1 0 -4.2 0M458.39 160.31a2.1 2.1 0 1 0 4.2 0a2.1 2.1 0 1 0 -4.2 0M460.02 159.86a2.1 2.1 0 1 0 4.2 0a2.1 2.1 0 1 0 -4.2 0M461.65 161.06a2.1 2.1 0 1 0 4.2 0a2.1 2.1 0 1 0 -4.2 0M463.29 160.53a2.1 2.1 0 1 0 4.2 0a2.1 2.1 0 1 0 -4.2 0M464.92 161.51a2.1 2.1 0 1 0 4.2 0a2.1 2.1 0 1 0 -4.2 0M466.56 159.76a2.1 2.1 0 1 0 4.2 0a2.1 2.1 0 1 0 -4.2 0M468.19 159.59a2.1 2.1 0 1 0 4.2 0a2.1 2.1 0 1 0 -4.2 0M469.83 161.33a2.1 2.1 0 1 0 4.2 0a2.1 2.1 0 1 0 -4.2 0M471.46 160.10a2.1 2.1 0 1 0 4.2 0a2.1 2.1 0 1 0 -4.2 0M473.09 159.62a2.1 2.1 0 1 0 4.2 0a2.1 2.1 0 1 0 -4.2 0M474.73 161.11a2.1 2.1 0 1 0 4.2 0a2.1 2.1 0 1 0 -4.2 0M476.36 161.10a2.1 2.1 0 1 0 4.2 0a2.1 2.1 0 1 0 -4.2 0M478.00 160.57a2.1 2.1 0 1 0 4.2 0a2.1 2.1 0 1 0 -4.2 0M479.63 160.25a2.1 2.1 0 1 0 4.2 0a2.1 2.1 0 1 0 -4.2 0M481.27 160.70a2.1 2.1 0 1 0 4.2 0a2.1 2.1 0 1 0 -4.2 0M482.90 159.74a2.1 2.1 0 1 0 4.2 0a2.1 2.1 0 1 0 -4.2 0M484.53 159.55a2.1 2.1 0 1 0 4.2 0a2.1 2.1 0 1 0 -4.2 0M486.17 159.26a2.1 2.1 0 1 0 4.2 0a2.1 2.1 0 1 0 -4.2 0M487.80 159.18a2.1 2.1 0 1 0 4.2 0a2.1 2.1 0 1 0 -4.2 0M489.44 158.62a2.1 2.1 0 1 0 4.2 0a2.1 2.1 0 1 0 -4.2 0M491.07 158.80a2.1 2.1 0 1 0 4.2 0a2.1 2.1 0 1 0 -4.2 0M492.71 160.35a2.1 2.1 0 1 0 4.2 0a2.1 2.1 0 1 0 -4.2 0M494.34 159.79a2.1 2.1 0 1 0 4.2 0a2.1 2.1 0 1 0 -4.2 0M495.97 160.10a2.1 2.1 0 1 0 4.2 0a2.1 2.1 0 1 0 -4.2 0M497.61 160.07a2.1 2.1 0 1 0 4.2 0a2.1 2.1 0 1 0 -4.2 0M499.24 159.40a2.1 2.1 0 1 0 4.2 0a2.1 2.1 0 1 0 -4.2 0M500.88 159.30a2.1 2.1 0 1 0 4.2 0a2.1 2.1 0 1 0 -4.2 0M502.51 158.95a2.1 2.1 0 1 0 4.2 0a2.1 2.1 0 1 0 -4.2 0M504.15 160.24a2.1 2.1 0 1 0 4.2 0a2.1 2.1 0 1 0 -4.2 0M505.78 159.98a2.1 2.1 0 1 0 4.2 0a2.1 2.1 0 1 0 -4.2 0M507.41 159.16a2.1 2.1 0 1 0 4.2 0a2.1 2.1 0 1 0 -4.2 0M509.05 159.24a2.1 2.1 0 1 0 4.2 0a2.1 2.1 0 1 0 -4.2 0M510.68 159.27a2.1 2.1 0 1 0 4.2 0a2.1 2.1 0 1 0 -4.2 0M512.32 159.08a2.1 2.1 0 1 0 4.2 0a2.1 2.1 0 1 0 -4.2 0M513.95 159.49a2.1 2.1 0 1 0 4.2 0a2.1 2.1 0 1 0 -4.2 0M515.59 158.51a2.1 2.1 0 1 0 4.2 0a2.1 2.1 0 1 0 -4.2 0M517.22 158.70a2.1 2.1 0 1 0 4.2 0a2.1 2.1 0 1 0 -4.2 0M518.85 158.94a2.1 2.1 0 1 0 4.2 0a2.1 2.1 0 1 0 -4.2 0M520.49 159.28a2.1 2.1 0 1 0 4.2 0a2.1 2.1 0 1 0 -4.2 0M522.12 158.93a2.1 2.1 0 1 0 4.2 0a2.1 2.1 0 1 0 -4.2 0M523.76 160.53a2.1 2.1 0 1 0 4.2 0a2.1 2.1 0 1 0 -4.2 0M525.39 159.37a2.1 2.1 0 1 0 4.2 0a2.1 2.1 0 1 0 -4.2 0M527.03 158.68a2.1 2.1 0 1 0 4.2 0a2.1 2.1 0 1 0 -4.2 0M528.66 159.64a2.1 2.1 0 1 0 4.2 0a2.1 2.1 0 1 0 -4.2 0M530.29 158.51a2.1 2.1 0 1 0 4.2 0a2.1 2.1 0 1 0 -4.2 0M531.93 158.51a2.1 2.1 0 1 0 4.2 0a2.1 2.1 0 1 0 -4.2 0M533.56 159.45a2.1 2.1 0 1 0 4.2 0a2.1 2.1 0 1 0 -4.2 0M535.20 158.69a2.1 2.1 0 1 0 4.2 0a2.1 2.1 0 1 0 -4.2 0M536.83 158.70a2.1 2.1 0 1 0 4.2 0a2.1 2.1 0 1 0 -4.2 0M538.47 158.17a2.1 2.1 0 1 0 4.2 0a2.1 2.1 0 1 0 -4.2 0M540.10 158.04a2.1 2.1 0 1 0 4.2 0a2.1 2.1 0 1 0 -4.2 0M541.73 158.42a2.1 2.1 0 1 0 4.2 0a2.1 2.1 0 1 0 -4.2 0M543.37 158.91a2.1 2.1 0 1 0 4.2 0a2.1 2.1 0 1 0 -4.2 0M545.00 158.42a2.1 2.1 0 1 0 4.2 0a2.1 2.1 0 1 0 -4.2 0M546.64 158.34a2.1 2.1 0 1 0 4.2 0a2.1 2.1 0 1 0 -4.2 0M548.27 157.79a2.1 2.1 0 1 0 4.2 0a2.1 2.1 0 1 0 -4.2 0M549.91 158.05a2.1 2.1 0 1 0 4.2 0a2.1 2.1 0 1 0 -4.2 0M551.54 158.68a2.1 2.1 0 1 0 4.2 0a2.1 2.1 0 1 0 -4.2 0M553.17 159.06a2.1 2.1 0 1 0 4.2 0a2.1 2.1 0 1 0 -4.2 0M554.81 158.40a2.1 2.1 0 1 0 4.2 0a2.1 2.1 0 1 0 -4.2 0M556.44 158.61a2.1 2.1 0 1 0 4.2 0a2.1 2.1 0 1 0 -4.2 0M558.08 158.83a2.1 2.1 0 1 0 4.2 0a2.1 2.1 0 1 0 -4.2 0M559.71 158.16a2.1 2.1 0 1 0 4.2 0a2.1 2.1 0 1 0 -4.2 0M561.35 158.38a2.1 2.1 0 1 0 4.2 0a2.1 2.1 0 1 0 -4.2 0M562.98 157.97a2.1 2.1 0 1 0 4.2 0a2.1 2.1 0 1 0 -4.2 0M564.61 157.68a2.1 2.1 0 1 0 4.2 0a2.1 2.1 0 1 0 -4.2 0M566.25 158.26a2.1 2.1 0 1 0 4.2 0a2.1 2.1 0 1 0 -4.2 0M567.88 156.47a2.1 2.1 0 1 0 4.2 0a2.1 2.1 0 1 0 -4.2 0M569.52 158.15a2.1 2.1 0 1 0 4.2 0a2.1 2.1 0 1 0 -4.2 0M571.15 157.21a2.1 2.1 0 1 0 4.2 0a2.1 2.1 0 1 0 -4.2 0M572.79 157.82a2.1 2.1 0 1 0 4.2 0a2.1 2.1 0 1 0 -4.2 0M574.42 157.15a2.1 2.1 0 1 0 4.2 0a2.1 2.1 0 1 0 -4.2 0M576.05 159.37a2.1 2.1 0 1 0 4.2 0a2.1 2.1 0 1 0 -4.2 0M577.69 158.30a2.1 2.1 0 1 0 4.2 0a2.1 2.1 0 1 0 -4.2 0M579.32 157.64a2.1 2.1 0 1 0 4.2 0a2.1 2.1 0 1 0 -4.2 0M580.96 157.39a2.1 2.1 0 1 0 4.2 0a2.1 2.1 0 1 0 -4.2 0M582.59 156.25a2.1 2.1 0 1 0 4.2 0a2.1 2.1 0 1 0 -4.2 0M584.23 157.52a2.1 2.1 0 1 0 4.2 0a2.1 2.1 0 1 0 -4.2 0M585.86 156.88a2.1 2.1 0 1 0 4.2 0a2.1 2.1 0 1 0 -4.2 0M587.49 157.19a2.1 2.1 0 1 0 4.2 0a2.1 2.1 0 1 0 -4.2 0M589.13 157.05a2.1 2.1 0 1 0 4.2 0a2.1 2.1 0 1 0 -4.2 0M590.76 157.31a2.1 2.1 0 1 0 4.2 0a2.1 2.1 0 1 0 -4.2 0M592.40 157.71a2.1 2.1 0 1 0 4.2 0a2.1 2.1 0 1 0 -4.2 0M594.03 157.26a2.1 2.1 0 1 0 4.2 0a2.1 2.1 0 1 0 -4.2 0M595.67 158.26a2.1 2.1 0 1 0 4.2 0a2.1 2.1 0 1 0 -4.2 0M597.30 156.79a2.1 2.1 0 1 0 4.2 0a2.1 2.1 0 1 0 -4.2 0M598.93 158.18a2.1 2.1 0 1 0 4.2 0a2.1 2.1 0 1 0 -4.2 0M600.57 157.34a2.1 2.1 0 1 0 4.2 0a2.1 2.1 0 1 0 -4.2 0M602.20 156.12a2.1 2.1 0 1 0 4.2 0a2.1 2.1 0 1 0 -4.2 0M603.84 157.60a2.1 2.1 0 1 0 4.2 0a2.1 2.1 0 1 0 -4.2 0M605.47 157.42a2.1 2.1 0 1 0 4.2 0a2.1 2.1 0 1 0 -4.2 0M607.11 156.67a2.1 2.1 0 1 0 4.2 0a2.1 2.1 0 1 0 -4.2 0M608.74 157.37a2.1 2.1 0 1 0 4.2 0a2.1 2.1 0 1 0 -4.2 0M610.37 157.89a2.1 2.1 0 1 0 4.2 0a2.1 2.1 0 1 0 -4.2 0M612.01 157.18a2.1 2.1 0 1 0 4.2 0a2.1 2.1 0 1 0 -4.2 0M613.64 156.95a2.1 2.1 0 1 0 4.2 0a2.1 2.1 0 1 0 -4.2 0M615.28 156.85a2.1 2.1 0 1 0 4.2 0a2.1 2.1 0 1 0 -4.2 0M616.91 157.78a2.1 2.1 0 1 0 4.2 0a2.1 2.1 0 1 0 -4.2 0M618.55 156.14a2.1 2.1 0 1 0 4.2 0a2.1 2.1 0 1 0 -4.2 0M620.18 156.17a2.1 2.1 0 1 0 4.2 0a2.1 2.1 0 1 0 -4.2 0M621.81 157.21a2.1 2.1 0 1 0 4.2 0a2.1 2.1 0 1 0 -4.2 0M623.45 157.03a2.1 2.1 0 1 0 4.2 0a2.1 2.1 0 1 0 -4.2 0M625.08 157.46a2.1 2.1 0 1 0 4.2 0a2.1 2.1 0 1 0 -4.2 0M626.72 156.26a2.1 2.1 0 1 0 4.2 0a2.1 2.1 0 1 0 -4.2 0M628.35 157.60a2.1 2.1 0 1 0 4.2 0a2.1 2.1 0 1 0 -4.2 0M629.99 156.70a2.1 2.1 0 1 0 4.2 0a2.1 2.1 0 1 0 -4.2 0M631.62 157.42a2.1 2.1 0 1 0 4.2 0a2.1 2.1 0 1 0 -4.2 0M633.25 157.54a2.1 2.1 0 1 0 4.2 0a2.1 2.1 0 1 0 -4.2 0M634.89 156.62a2.1 2.1 0 1 0 4.2 0a2.1 2.1 0 1 0 -4.2 0M636.52 156.20a2.1 2.1 0 1 0 4.2 0a2.1 2.1 0 1 0 -4.2 0M638.16 157.05a2.1 2.1 0 1 0 4.2 0a2.1 2.1 0 1 0 -4.2 0M639.79 157.46a2.1 2.1 0 1 0 4.2 0a2.1 2.1 0 1 0 -4.2 0M641.43 156.49a2.1 2.1 0 1 0 4.2 0a2.1 2.1 0 1 0 -4.2 0M643.06 157.02a2.1 2.1 0 1 0 4.2 0a2.1 2.1 0 1 0 -4.2 0M644.69 156.77a2.1 2.1 0 1 0 4.2 0a2.1 2.1 0 1 0 -4.2 0M646.33 155.98a2.1 2.1 0 1 0 4.2 0a2.1 2.1 0 1 0 -4.2 0M647.96 156.21a2.1 2.1 0 1 0 4.2 0a2.1 2.1 0 1 0 -4.2 0M649.60 157.25a2.1 2.1 0 1 0 4.2 0a2.1 2.1 0 1 0 -4.2 0M651.23 155.44a2.1 2.1 0 1 0 4.2 0a2.1 2.1 0 1 0 -4.2 0M652.87 156.88a2.1 2.1 0 1 0 4.2 0a2.1 2.1 0 1 0 -4.2 0M654.50 156.36a2.1 2.1 0 1 0 4.2 0a2.1 2.1 0 1 0 -4.2 0M391.08 183.01a2.1 2.1 0 1 0 4.2 0a2.1 2.1 0 1 0 -4.2 0M392.91 173.50a2.1 2.1 0 1 0 4.2 0a2.1 2.1 0 1 0 -4.2 0M394.74 171.82a2.1 2.1 0 1 0 4.2 0a2.1 2.1 0 1 0 -4.2 0M396.57 168.31a2.1 2.1 0 1 0 4.2 0a2.1 2.1 0 1 0 -4.2 0M398.40 167.14a2.1 2.1 0 1 0 4.2 0a2.1 2.1 0 1 0 -4.2 0M400.23 167.55a2.1 2.1 0 1 0 4.2 0a2.1 2.1 0 1 0 -4.2 0M402.06 166.93a2.1 2.1 0 1 0 4.2 0a2.1 2.1 0 1 0 -4.2 0M403.89 166.29a2.1 2.1 0 1 0 4.2 0a2.1 2.1 0 1 0 -4.2 0M405.72 164.29a2.1 2.1 0 1 0 4.2 0a2.1 2.1 0 1 0 -4.2 0M407.55 164.81a2.1 2.1 0 1 0 4.2 0a2.1 2.1 0 1 0 -4.2 0M390.69 197.28a2.1 2.1 0 1 0 4.2 0a2.1 2.1 0 1 0 -4.2 0" fill="none" stroke="#cdc6ab" stroke-width="0.6" stroke-opacity="1"/>
<path d="M658.06 157.07a1.85 1.85 0 1 0 3.7 0a1.85 1.85 0 1 0 -3.7 0M658.99 157.24a1.85 1.85 0 1 0 3.7 0a1.85 1.85 0 1 0 -3.7 0M659.92 157.10a1.85 1.85 0 1 0 3.7 0a1.85 1.85 0 1 0 -3.7 0M660.85 157.75a1.85 1.85 0 1 0 3.7 0a1.85 1.85 0 1 0 -3.7 0M661.78 156.98a1.85 1.85 0 1 0 3.7 0a1.85 1.85 0 1 0 -3.7 0M662.71 157.96a1.85 1.85 0 1 0 3.7 0a1.85 1.85 0 1 0 -3.7 0M663.64 157.02a1.85 1.85 0 1 0 3.7 0a1.85 1.85 0 1 0 -3.7 0M664.57 156.75a1.85 1.85 0 1 0 3.7 0a1.85 1.85 0 1 0 -3.7 0M665.50 156.64a1.85 1.85 0 1 0 3.7 0a1.85 1.85 0 1 0 -3.7 0M666.43 157.10a1.85 1.85 0 1 0 3.7 0a1.85 1.85 0 1 0 -3.7 0M667.35 157.55a1.85 1.85 0 1 0 3.7 0a1.85 1.85 0 1 0 -3.7 0M668.28 156.82a1.85 1.85 0 1 0 3.7 0a1.85 1.85 0 1 0 -3.7 0M669.21 157.25a1.85 1.85 0 1 0 3.7 0a1.85 1.85 0 1 0 -3.7 0M670.14 155.84a1.85 1.85 0 1 0 3.7 0a1.85 1.85 0 1 0 -3.7 0M671.07 156.37a1.85 1.85 0 1 0 3.7 0a1.85 1.85 0 1 0 -3.7 0M672.00 156.97a1.85 1.85 0 1 0 3.7 0a1.85 1.85 0 1 0 -3.7 0M672.93 157.20a1.85 1.85 0 1 0 3.7 0a1.85 1.85 0 1 0 -3.7 0M673.86 157.35a1.85 1.85 0 1 0 3.7 0a1.85 1.85 0 1 0 -3.7 0M674.79 157.50a1.85 1.85 0 1 0 3.7 0a1.85 1.85 0 1 0 -3.7 0M675.72 157.09a1.85 1.85 0 1 0 3.7 0a1.85 1.85 0 1 0 -3.7 0M676.65 156.64a1.85 1.85 0 1 0 3.7 0a1.85 1.85 0 1 0 -3.7 0" fill="none" stroke="#1a1a1a" stroke-width="0.4"/>
<path d="M391.38 215.42a2.1 2.1 0 1 0 4.2 0a2.1 2.1 0 1 0 -4.2 0M393.01 211.31a2.1 2.1 0 1 0 4.2 0a2.1 2.1 0 1 0 -4.2 0M394.65 208.54a2.1 2.1 0 1 0 4.2 0a2.1 2.1 0 1 0 -4.2 0M396.28 208.93a2.1 2.1 0 1 0 4.2 0a2.1 2.1 0 1 0 -4.2 0M397.92 207.26a2.1 2.1 0 1 0 4.2 0a2.1 2.1 0 1 0 -4.2 0M399.55 204.70a2.1 2.1 0 1 0 4.2 0a2.1 2.1 0 1 0 -4.2 0M401.19 206.98a2.1 2.1 0 1 0 4.2 0a2.1 2.1 0 1 0 -4.2 0M402.82 205.46a2.1 2.1 0 1 0 4.2 0a2.1 2.1 0 1 0 -4.2 0M404.45 204.40a2.1 2.1 0 1 0 4.2 0a2.1 2.1 0 1 0 -4.2 0M406.09 203.89a2.1 2.1 0 1 0 4.2 0a2.1 2.1 0 1 0 -4.2 0M407.72 203.54a2.1 2.1 0 1 0 4.2 0a2.1 2.1 0 1 0 -4.2 0M409.36 203.78a2.1 2.1 0 1 0 4.2 0a2.1 2.1 0 1 0 -4.2 0M410.99 203.23a2.1 2.1 0 1 0 4.2 0a2.1 2.1 0 1 0 -4.2 0M412.63 203.27a2.1 2.1 0 1 0 4.2 0a2.1 2.1 0 1 0 -4.2 0M414.26 202.67a2.1 2.1 0 1 0 4.2 0a2.1 2.1 0 1 0 -4.2 0M415.89 204.26a2.1 2.1 0 1 0 4.2 0a2.1 2.1 0 1 0 -4.2 0M417.53 203.49a2.1 2.1 0 1 0 4.2 0a2.1 2.1 0 1 0 -4.2 0M419.16 202.80a2.1 2.1 0 1 0 4.2 0a2.1 2.1 0 1 0 -4.2 0M420.80 203.35a2.1 2.1 0 1 0 4.2 0a2.1 2.1 0 1 0 -4.2 0M422.43 203.24a2.1 2.1 0 1 0 4.2 0a2.1 2.1 0 1 0 -4.2 0M424.07 202.05a2.1 2.1 0 1 0 4.2 0a2.1 2.1 0 1 0 -4.2 0M425.70 202.75a2.1 2.1 0 1 0 4.2 0a2.1 2.1 0 1 0 -4.2 0M427.33 201.81a2.1 2.1 0 1 0 4.2 0a2.1 2.1 0 1 0 -4.2 0M428.97 201.62a2.1 2.1 0 1 0 4.2 0a2.1 2.1 0 1 0 -4.2 0M430.60 201.79a2.1 2.1 0 1 0 4.2 0a2.1 2.1 0 1 0 -4.2 0M432.24 201.55a2.1 2.1 0 1 0 4.2 0a2.1 2.1 0 1 0 -4.2 0M433.87 201.84a2.1 2.1 0 1 0 4.2 0a2.1 2.1 0 1 0 -4.2 0M435.51 202.58a2.1 2.1 0 1 0 4.2 0a2.1 2.1 0 1 0 -4.2 0M437.14 201.60a2.1 2.1 0 1 0 4.2 0a2.1 2.1 0 1 0 -4.2 0M438.77 201.20a2.1 2.1 0 1 0 4.2 0a2.1 2.1 0 1 0 -4.2 0M440.41 201.74a2.1 2.1 0 1 0 4.2 0a2.1 2.1 0 1 0 -4.2 0M442.04 201.38a2.1 2.1 0 1 0 4.2 0a2.1 2.1 0 1 0 -4.2 0M443.68 200.75a2.1 2.1 0 1 0 4.2 0a2.1 2.1 0 1 0 -4.2 0M445.31 201.71a2.1 2.1 0 1 0 4.2 0a2.1 2.1 0 1 0 -4.2 0M446.95 200.65a2.1 2.1 0 1 0 4.2 0a2.1 2.1 0 1 0 -4.2 0M448.58 199.79a2.1 2.1 0 1 0 4.2 0a2.1 2.1 0 1 0 -4.2 0M450.21 201.26a2.1 2.1 0 1 0 4.2 0a2.1 2.1 0 1 0 -4.2 0M451.85 200.73a2.1 2.1 0 1 0 4.2 0a2.1 2.1 0 1 0 -4.2 0M453.48 200.85a2.1 2.1 0 1 0 4.2 0a2.1 2.1 0 1 0 -4.2 0M455.12 199.70a2.1 2.1 0 1 0 4.2 0a2.1 2.1 0 1 0 -4.2 0M456.75 200.41a2.1 2.1 0 1 0 4.2 0a2.1 2.1 0 1 0 -4.2 0M458.39 199.97a2.1 2.1 0 1 0 4.2 0a2.1 2.1 0 1 0 -4.2 0M460.02 200.92a2.1 2.1 0 1 0 4.2 0a2.1 2.1 0 1 0 -4.2 0M461.65 200.42a2.1 2.1 0 1 0 4.2 0a2.1 2.1 0 1 0 -4.2 0M463.29 200.35a2.1 2.1 0 1 0 4.2 0a2.1 2.1 0 1 0 -4.2 0M464.92 201.42a2.1 2.1 0 1 0 4.2 0a2.1 2.1 0 1 0 -4.2 0M466.56 199.29a2.1 2.1 0 1 0 4.2 0a2.1 2.1 0 1 0 -4.2 0M468.19 199.57a2.1 2.1 0 1 0 4.2 0a2.1 2.1 0 1 0 -4.2 0M469.83 201.21a2.1 2.1 0 1 0 4.2 0a2.1 2.1 0 1 0 -4.2 0M471.46 199.57a2.1 2.1 0 1 0 4.2 0a2.1 2.1 0 1 0 -4.2 0M473.09 200.10a2.1 2.1 0 1 0 4.2 0a2.1 2.1 0 1 0 -4.2 0M474.73 199.69a2.1 2.1 0 1 0 4.2 0a2.1 2.1 0 1 0 -4.2 0M476.36 199.71a2.1 2.1 0 1 0 4.2 0a2.1 2.1 0 1 0 -4.2 0M478.00 200.87a2.1 2.1 0 1 0 4.2 0a2.1 2.1 0 1 0 -4.2 0M479.63 200.01a2.1 2.1 0 1 0 4.2 0a2.1 2.1 0 1 0 -4.2 0M481.27 198.88a2.1 2.1 0 1 0 4.2 0a2.1 2.1 0 1 0 -4.2 0M482.90 200.18a2.1 2.1 0 1 0 4.2 0a2.1 2.1 0 1 0 -4.2 0M484.53 200.43a2.1 2.1 0 1 0 4.2 0a2.1 2.1 0 1 0 -4.2 0M486.17 200.61a2.1 2.1 0 1 0 4.2 0a2.1 2.1 0 1 0 -4.2 0M487.80 200.49a2.1 2.1 0 1 0 4.2 0a2.1 2.1 0 1 0 -4.2 0M489.44 199.46a2.1 2.1 0 1 0 4.2 0a2.1 2.1 0 1 0 -4.2 0M491.07 198.56a2.1 2.1 0 1 0 4.2 0a2.1 2.1 0 1 0 -4.2 0M492.71 199.34a2.1 2.1 0 1 0 4.2 0a2.1 2.1 0 1 0 -4.2 0M494.34 199.42a2.1 2.1 0 1 0 4.2 0a2.1 2.1 0 1 0 -4.2 0M495.97 198.11a2.1 2.1 0 1 0 4.2 0a2.1 2.1 0 1 0 -4.2 0M497.61 199.85a2.1 2.1 0 1 0 4.2 0a2.1 2.1 0 1 0 -4.2 0M499.24 199.92a2.1 2.1 0 1 0 4.2 0a2.1 2.1 0 1 0 -4.2 0M500.88 199.11a2.1 2.1 0 1 0 4.2 0a2.1 2.1 0 1 0 -4.2 0M502.51 199.07a2.1 2.1 0 1 0 4.2 0a2.1 2.1 0 1 0 -4.2 0M504.15 200.04a2.1 2.1 0 1 0 4.2 0a2.1 2.1 0 1 0 -4.2 0M505.78 200.11a2.1 2.1 0 1 0 4.2 0a2.1 2.1 0 1 0 -4.2 0M507.41 199.15a2.1 2.1 0 1 0 4.2 0a2.1 2.1 0 1 0 -4.2 0M509.05 199.14a2.1 2.1 0 1 0 4.2 0a2.1 2.1 0 1 0 -4.2 0M510.68 200.11a2.1 2.1 0 1 0 4.2 0a2.1 2.1 0 1 0 -4.2 0M512.32 199.37a2.1 2.1 0 1 0 4.2 0a2.1 2.1 0 1 0 -4.2 0M513.95 199.56a2.1 2.1 0 1 0 4.2 0a2.1 2.1 0 1 0 -4.2 0M515.59 198.89a2.1 2.1 0 1 0 4.2 0a2.1 2.1 0 1 0 -4.2 0M517.22 199.23a2.1 2.1 0 1 0 4.2 0a2.1 2.1 0 1 0 -4.2 0M518.85 199.18a2.1 2.1 0 1 0 4.2 0a2.1 2.1 0 1 0 -4.2 0M520.49 199.33a2.1 2.1 0 1 0 4.2 0a2.1 2.1 0 1 0 -4.2 0M522.12 198.40a2.1 2.1 0 1 0 4.2 0a2.1 2.1 0 1 0 -4.2 0M523.76 198.15a2.1 2.1 0 1 0 4.2 0a2.1 2.1 0 1 0 -4.2 0M525.39 199.25a2.1 2.1 0 1 0 4.2 0a2.1 2.1 0 1 0 -4.2 0M527.03 198.44a2.1 2.1 0 1 0 4.2 0a2.1 2.1 0 1 0 -4.2 0M528.66 199.45a2.1 2.1 0 1 0 4.2 0a2.1 2.1 0 1 0 -4.2 0M530.29 198.89a2.1 2.1 0 1 0 4.2 0a2.1 2.1 0 1 0 -4.2 0M531.93 198.42a2.1 2.1 0 1 0 4.2 0a2.1 2.1 0 1 0 -4.2 0M533.56 197.91a2.1 2.1 0 1 0 4.2 0a2.1 2.1 0 1 0 -4.2 0M535.20 199.11a2.1 2.1 0 1 0 4.2 0a2.1 2.1 0 1 0 -4.2 0M536.83 198.89a2.1 2.1 0 1 0 4.2 0a2.1 2.1 0 1 0 -4.2 0M538.47 198.70a2.1 2.1 0 1 0 4.2 0a2.1 2.1 0 1 0 -4.2 0M540.10 199.77a2.1 2.1 0 1 0 4.2 0a2.1 2.1 0 1 0 -4.2 0M541.73 198.78a2.1 2.1 0 1 0 4.2 0a2.1 2.1 0 1 0 -4.2 0M543.37 199.20a2.1 2.1 0 1 0 4.2 0a2.1 2.1 0 1 0 -4.2 0M545.00 198.51a2.1 2.1 0 1 0 4.2 0a2.1 2.1 0 1 0 -4.2 0M546.64 199.46a2.1 2.1 0 1 0 4.2 0a2.1 2.1 0 1 0 -4.2 0M548.27 199.98a2.1 2.1 0 1 0 4.2 0a2.1 2.1 0 1 0 -4.2 0M549.91 198.67a2.1 2.1 0 1 0 4.2 0a2.1 2.1 0 1 0 -4.2 0M551.54 198.51a2.1 2.1 0 1 0 4.2 0a2.1 2.1 0 1 0 -4.2 0M553.17 199.01a2.1 2.1 0 1 0 4.2 0a2.1 2.1 0 1 0 -4.2 0M554.81 198.07a2.1 2.1 0 1 0 4.2 0a2.1 2.1 0 1 0 -4.2 0M556.44 198.80a2.1 2.1 0 1 0 4.2 0a2.1 2.1 0 1 0 -4.2 0M558.08 198.99a2.1 2.1 0 1 0 4.2 0a2.1 2.1 0 1 0 -4.2 0M559.71 198.28a2.1 2.1 0 1 0 4.2 0a2.1 2.1 0 1 0 -4.2 0M561.35 199.58a2.1 2.1 0 1 0 4.2 0a2.1 2.1 0 1 0 -4.2 0M562.98 198.99a2.1 2.1 0 1 0 4.2 0a2.1 2.1 0 1 0 -4.2 0M564.61 198.55a2.1 2.1 0 1 0 4.2 0a2.1 2.1 0 1 0 -4.2 0M566.25 197.97a2.1 2.1 0 1 0 4.2 0a2.1 2.1 0 1 0 -4.2 0M567.88 198.61a2.1 2.1 0 1 0 4.2 0a2.1 2.1 0 1 0 -4.2 0M569.52 198.29a2.1 2.1 0 1 0 4.2 0a2.1 2.1 0 1 0 -4.2 0M571.15 198.89a2.1 2.1 0 1 0 4.2 0a2.1 2.1 0 1 0 -4.2 0M572.79 198.26a2.1 2.1 0 1 0 4.2 0a2.1 2.1 0 1 0 -4.2 0M574.42 197.37a2.1 2.1 0 1 0 4.2 0a2.1 2.1 0 1 0 -4.2 0M576.05 198.86a2.1 2.1 0 1 0 4.2 0a2.1 2.1 0 1 0 -4.2 0M577.69 196.88a2.1 2.1 0 1 0 4.2 0a2.1 2.1 0 1 0 -4.2 0M579.32 198.80a2.1 2.1 0 1 0 4.2 0a2.1 2.1 0 1 0 -4.2 0M580.96 198.36a2.1 2.1 0 1 0 4.2 0a2.1 2.1 0 1 0 -4.2 0M582.59 198.24a2.1 2.1 0 1 0 4.2 0a2.1 2.1 0 1 0 -4.2 0M584.23 197.68a2.1 2.1 0 1 0 4.2 0a2.1 2.1 0 1 0 -4.2 0M585.86 199.11a2.1 2.1 0 1 0 4.2 0a2.1 2.1 0 1 0 -4.2 0M587.49 199.65a2.1 2.1 0 1 0 4.2 0a2.1 2.1 0 1 0 -4.2 0M589.13 197.90a2.1 2.1 0 1 0 4.2 0a2.1 2.1 0 1 0 -4.2 0M590.76 197.76a2.1 2.1 0 1 0 4.2 0a2.1 2.1 0 1 0 -4.2 0M592.40 197.85a2.1 2.1 0 1 0 4.2 0a2.1 2.1 0 1 0 -4.2 0M594.03 196.55a2.1 2.1 0 1 0 4.2 0a2.1 2.1 0 1 0 -4.2 0M595.67 198.09a2.1 2.1 0 1 0 4.2 0a2.1 2.1 0 1 0 -4.2 0M597.30 198.04a2.1 2.1 0 1 0 4.2 0a2.1 2.1 0 1 0 -4.2 0M598.93 197.59a2.1 2.1 0 1 0 4.2 0a2.1 2.1 0 1 0 -4.2 0M600.57 197.94a2.1 2.1 0 1 0 4.2 0a2.1 2.1 0 1 0 -4.2 0M602.20 197.09a2.1 2.1 0 1 0 4.2 0a2.1 2.1 0 1 0 -4.2 0M603.84 198.94a2.1 2.1 0 1 0 4.2 0a2.1 2.1 0 1 0 -4.2 0M605.47 198.37a2.1 2.1 0 1 0 4.2 0a2.1 2.1 0 1 0 -4.2 0M607.11 200.32a2.1 2.1 0 1 0 4.2 0a2.1 2.1 0 1 0 -4.2 0M608.74 197.57a2.1 2.1 0 1 0 4.2 0a2.1 2.1 0 1 0 -4.2 0M610.37 198.32a2.1 2.1 0 1 0 4.2 0a2.1 2.1 0 1 0 -4.2 0M612.01 197.47a2.1 2.1 0 1 0 4.2 0a2.1 2.1 0 1 0 -4.2 0M613.64 196.67a2.1 2.1 0 1 0 4.2 0a2.1 2.1 0 1 0 -4.2 0M615.28 198.04a2.1 2.1 0 1 0 4.2 0a2.1 2.1 0 1 0 -4.2 0M616.91 198.18a2.1 2.1 0 1 0 4.2 0a2.1 2.1 0 1 0 -4.2 0M618.55 198.33a2.1 2.1 0 1 0 4.2 0a2.1 2.1 0 1 0 -4.2 0M620.18 198.53a2.1 2.1 0 1 0 4.2 0a2.1 2.1 0 1 0 -4.2 0M621.81 198.38a2.1 2.1 0 1 0 4.2 0a2.1 2.1 0 1 0 -4.2 0M623.45 197.55a2.1 2.1 0 1 0 4.2 0a2.1 2.1 0 1 0 -4.2 0M625.08 197.92a2.1 2.1 0 1 0 4.2 0a2.1 2.1 0 1 0 -4.2 0M626.72 197.88a2.1 2.1 0 1 0 4.2 0a2.1 2.1 0 1 0 -4.2 0M628.35 198.02a2.1 2.1 0 1 0 4.2 0a2.1 2.1 0 1 0 -4.2 0M629.99 197.31a2.1 2.1 0 1 0 4.2 0a2.1 2.1 0 1 0 -4.2 0M631.62 197.56a2.1 2.1 0 1 0 4.2 0a2.1 2.1 0 1 0 -4.2 0M633.25 197.96a2.1 2.1 0 1 0 4.2 0a2.1 2.1 0 1 0 -4.2 0M634.89 197.42a2.1 2.1 0 1 0 4.2 0a2.1 2.1 0 1 0 -4.2 0M636.52 197.93a2.1 2.1 0 1 0 4.2 0a2.1 2.1 0 1 0 -4.2 0M638.16 198.56a2.1 2.1 0 1 0 4.2 0a2.1 2.1 0 1 0 -4.2 0M639.79 196.87a2.1 2.1 0 1 0 4.2 0a2.1 2.1 0 1 0 -4.2 0M641.43 197.49a2.1 2.1 0 1 0 4.2 0a2.1 2.1 0 1 0 -4.2 0M643.06 198.39a2.1 2.1 0 1 0 4.2 0a2.1 2.1 0 1 0 -4.2 0M644.69 197.07a2.1 2.1 0 1 0 4.2 0a2.1 2.1 0 1 0 -4.2 0M646.33 197.52a2.1 2.1 0 1 0 4.2 0a2.1 2.1 0 1 0 -4.2 0M647.96 198.73a2.1 2.1 0 1 0 4.2 0a2.1 2.1 0 1 0 -4.2 0M649.60 196.68a2.1 2.1 0 1 0 4.2 0a2.1 2.1 0 1 0 -4.2 0M651.23 197.49a2.1 2.1 0 1 0 4.2 0a2.1 2.1 0 1 0 -4.2 0M652.87 197.11a2.1 2.1 0 1 0 4.2 0a2.1 2.1 0 1 0 -4.2 0M654.50 197.54a2.1 2.1 0 1 0 4.2 0a2.1 2.1 0 1 0 -4.2 0M391.08 216.70a2.1 2.1 0 1 0 4.2 0a2.1 2.1 0 1 0 -4.2 0M392.91 212.64a2.1 2.1 0 1 0 4.2 0a2.1 2.1 0 1 0 -4.2 0M394.74 209.34a2.1 2.1 0 1 0 4.2 0a2.1 2.1 0 1 0 -4.2 0M396.57 208.24a2.1 2.1 0 1 0 4.2 0a2.1 2.1 0 1 0 -4.2 0M398.40 207.17a2.1 2.1 0 1 0 4.2 0a2.1 2.1 0 1 0 -4.2 0M400.23 206.02a2.1 2.1 0 1 0 4.2 0a2.1 2.1 0 1 0 -4.2 0M402.06 205.39a2.1 2.1 0 1 0 4.2 0a2.1 2.1 0 1 0 -4.2 0M403.89 204.39a2.1 2.1 0 1 0 4.2 0a2.1 2.1 0 1 0 -4.2 0M405.72 204.24a2.1 2.1 0 1 0 4.2 0a2.1 2.1 0 1 0 -4.2 0M407.55 203.84a2.1 2.1 0 1 0 4.2 0a2.1 2.1 0 1 0 -4.2 0" fill="none" stroke="#cdc6ab" stroke-width="0.6" stroke-opacity="1"/>
<path d="M658.06 199.30a1.85 1.85 0 1 0 3.7 0a1.85 1.85 0 1 0 -3.7 0M658.99 198.12a1.85 1.85 0 1 0 3.7 0a1.85 1.85 0 1 0 -3.7 0M659.92 197.36a1.85 1.85 0 1 0 3.7 0a1.85 1.85 0 1 0 -3.7 0M660.85 196.90a1.85 1.85 0 1 0 3.7 0a1.85 1.85 0 1 0 -3.7 0M661.78 198.06a1.85 1.85 0 1 0 3.7 0a1.85 1.85 0 1 0 -3.7 0M662.71 197.88a1.85 1.85 0 1 0 3.7 0a1.85 1.85 0 1 0 -3.7 0M663.64 196.71a1.85 1.85 0 1 0 3.7 0a1.85 1.85 0 1 0 -3.7 0M664.57 198.00a1.85 1.85 0 1 0 3.7 0a1.85 1.85 0 1 0 -3.7 0M665.50 197.27a1.85 1.85 0 1 0 3.7 0a1.85 1.85 0 1 0 -3.7 0M666.43 196.62a1.85 1.85 0 1 0 3.7 0a1.85 1.85 0 1 0 -3.7 0M667.35 197.73a1.85 1.85 0 1 0 3.7 0a1.85 1.85 0 1 0 -3.7 0M668.28 196.91a1.85 1.85 0 1 0 3.7 0a1.85 1.85 0 1 0 -3.7 0M669.21 198.23a1.85 1.85 0 1 0 3.7 0a1.85 1.85 0 1 0 -3.7 0M670.14 197.59a1.85 1.85 0 1 0 3.7 0a1.85 1.85 0 1 0 -3.7 0M671.07 197.78a1.85 1.85 0 1 0 3.7 0a1.85 1.85 0 1 0 -3.7 0M672.00 197.64a1.85 1.85 0 1 0 3.7 0a1.85 1.85 0 1 0 -3.7 0M672.93 196.94a1.85 1.85 0 1 0 3.7 0a1.85 1.85 0 1 0 -3.7 0M673.86 196.07a1.85 1.85 0 1 0 3.7 0a1.85 1.85 0 1 0 -3.7 0M674.79 198.15a1.85 1.85 0 1 0 3.7 0a1.85 1.85 0 1 0 -3.7 0M675.72 198.08a1.85 1.85 0 1 0 3.7 0a1.85 1.85 0 1 0 -3.7 0M676.65 197.34a1.85 1.85 0 1 0 3.7 0a1.85 1.85 0 1 0 -3.7 0" fill="none" stroke="#1a1a1a" stroke-width="0.4"/>
<path d="M550.40 223.40a2.1 2.1 0 1 0 4.2 0a2.1 2.1 0 1 0 -4.2 0M413.20 167.80a2.1 2.1 0 1 0 4.2 0a2.1 2.1 0 1 0 -4.2 0M422.80 121.00a2.1 2.1 0 1 0 4.2 0a2.1 2.1 0 1 0 -4.2 0" fill="none" stroke="#cdc6ab" stroke-width="0.6" stroke-opacity="1"/>
<polyline points="392.50,110.21 392.51,109.04 392.51,108.98 392.51,108.90 392.51,108.83 392.51,108.75 392.51,108.66 392.51,108.57 392.51,108.48 392.51,108.38 392.52,108.27 392.52,108.16 392.52,108.04 392.52,107.91 392.52,107.78 392.53,107.64 392.53,107.49 392.54,107.33 392.54,107.16 392.54,106.98 392.55,106.79 392.56,106.60 392.56,106.39 392.57,106.16 392.58,105.93 392.59,105.68 392.60,105.41 392.61,105.13 392.62,104.84 392.64,104.53 392.65,104.19 392.67,103.84 392.69,103.47 392.71,103.08 392.74,102.67 392.77,102.23 392.80,101.76 392.84,101.27 392.88,100.75 392.92,100.20 392.98,99.61 393.03,98.99 393.10,98.34 393.17,97.65 393.25,96.92 393.34,96.14 393.44,95.32 393.55,94.46 393.68,93.54 393.82,92.57 393.98,91.54 394.15,90.45 394.35,89.30 394.57,88.08 394.82,86.79 395.10,85.42 395.41,83.98 395.76,82.45 396.15,80.83 396.59,79.12 397.08,77.31 397.63,75.39 398.25,73.37 398.94,71.23 399.71,68.98 400.58,66.61 401.55,64.14 402.63,61.57 403.85,58.91 405.21,56.19 406.74,53.43 408.45,50.66 410.36,47.92 412.50,45.24 414.90,42.67 417.59,40.25 420.60,38.02 423.98,36.00 427.75,34.23 431.98,32.72 436.72,31.47 442.03,30.48 447.97,29.72 454.63,29.16 462.08,28.77 470.43,28.52 479.78,28.36 490.26,28.28 501.99,28.23 515.13,28.21 529.84,28.20 546.32,28.19 564.78,28.19 585.45,28.19 608.61,28.19 634.54,28.19 663.59,28.19 678.50,28.19" fill="none" stroke="#141414" stroke-width="1.55" stroke-linejoin="round"/>
<polyline points="392.50,156.75 392.51,156.09 392.51,156.05 392.51,156.01 392.51,155.97 392.51,155.92 392.51,155.87 392.51,155.82 392.51,155.77 392.51,155.71 392.52,155.65 392.52,155.58 392.52,155.52 392.52,155.44 392.52,155.37 392.53,155.29 392.53,155.20 392.54,155.11 392.54,155.02 392.54,154.91 392.55,154.81 392.56,154.69 392.56,154.57 392.57,154.45 392.58,154.31 392.59,154.17 392.60,154.02 392.61,153.86 392.62,153.69 392.64,153.52 392.65,153.33 392.67,153.13 392.69,152.92 392.71,152.69 392.74,152.46 392.77,152.21 392.80,151.94 392.84,151.66 392.88,151.36 392.92,151.05 392.98,150.72 393.03,150.37 393.10,149.99 393.17,149.60 393.25,149.18 393.34,148.74 393.44,148.27 393.55,147.78 393.68,147.26 393.82,146.70 393.98,146.12 394.15,145.50 394.35,144.84 394.57,144.15 394.82,143.41 395.10,142.64 395.41,141.81 395.76,140.94 396.15,140.02 396.59,139.05 397.08,138.02 397.63,136.92 398.25,135.77 398.94,134.55 399.71,133.27 400.58,131.93 401.55,130.52 402.63,129.05 403.85,127.54 405.21,125.99 406.74,124.42 408.45,122.84 410.36,121.28 412.50,119.75 414.90,118.29 417.59,116.91 420.60,115.64 423.98,114.49 427.75,113.49 431.98,112.63 436.72,111.91 442.03,111.35 447.97,110.91 454.63,110.60 462.08,110.38 470.43,110.23 479.78,110.14 490.26,110.09 501.99,110.07 515.13,110.05 529.84,110.05 546.32,110.05 564.78,110.04 585.45,110.04 608.61,110.04 634.54,110.04 663.59,110.04 678.50,110.04" fill="none" stroke="#141414" stroke-width="1.55" stroke-linejoin="round"/>
<polyline points="392.50,196.88 392.51,196.30 392.51,196.26 392.51,196.23 392.51,196.19 392.51,196.15 392.51,196.11 392.51,196.06 392.51,196.01 392.51,195.96 392.52,195.91 392.52,195.85 392.52,195.80 392.52,195.73 392.52,195.67 392.53,195.60 392.53,195.52 392.54,195.44 392.54,195.36 392.54,195.27 392.55,195.18 392.56,195.08 392.56,194.97 392.57,194.86 392.58,194.74 392.59,194.62 392.60,194.49 392.61,194.35 392.62,194.20 392.64,194.05 392.65,193.88 392.67,193.71 392.69,193.52 392.71,193.33 392.74,193.12 392.77,192.90 392.80,192.67 392.84,192.42 392.88,192.16 392.92,191.89 392.98,191.60 393.03,191.29 393.10,190.97 393.17,190.62 393.25,190.26 393.34,189.87 393.44,189.46 393.55,189.03 393.68,188.57 393.82,188.09 393.98,187.58 394.15,187.04 394.35,186.46 394.57,185.85 394.82,185.21 395.10,184.53 395.41,183.81 395.76,183.05 396.15,182.25 396.59,181.39 397.08,180.49 397.63,179.54 398.25,178.53 398.94,177.46 399.71,176.34 400.58,175.16 401.55,173.93 402.63,172.65 403.85,171.33 405.21,169.97 406.74,168.60 408.45,167.22 410.36,165.85 412.50,164.52 414.90,163.24 417.59,162.03 420.60,160.92 423.98,159.92 427.75,159.04 431.98,158.28 436.72,157.66 442.03,157.17 447.97,156.79 454.63,156.51 462.08,156.32 470.43,156.19 479.78,156.12 490.26,156.07 501.99,156.05 515.13,156.04 529.84,156.03 546.32,156.03 564.78,156.03 585.45,156.03 608.61,156.03 634.54,156.03 663.59,156.03 678.50,156.03" fill="none" stroke="#141414" stroke-width="1.55" stroke-linejoin="round"/>
<polyline points="392.50,237.00 392.51,236.43 392.51,236.40 392.51,236.36 392.51,236.33 392.51,236.29 392.51,236.25 392.51,236.20 392.51,236.15 392.51,236.11 392.52,236.05 392.52,236.00 392.52,235.94 392.52,235.88 392.52,235.81 392.53,235.74 392.53,235.67 392.54,235.59 392.54,235.51 392.54,235.42 392.55,235.33 392.56,235.23 392.56,235.13 392.57,235.02 392.58,234.91 392.59,234.78 392.60,234.66 392.61,234.52 392.62,234.37 392.64,234.22 392.65,234.06 392.67,233.89 392.69,233.71 392.71,233.51 392.74,233.31 392.77,233.10 392.80,232.87 392.84,232.63 392.88,232.37 392.92,232.10 392.98,231.82 393.03,231.52 393.10,231.20 393.17,230.86 393.25,230.50 393.34,230.12 393.44,229.72 393.55,229.29 393.68,228.85 393.82,228.37 393.98,227.87 394.15,227.33 394.35,226.77 394.57,226.17 394.82,225.54 395.10,224.88 395.41,224.17 395.76,223.42 396.15,222.63 396.59,221.79 397.08,220.90 397.63,219.97 398.25,218.98 398.94,217.93 399.71,216.83 400.58,215.67 401.55,214.46 402.63,213.21 403.85,211.91 405.21,210.57 406.74,209.22 408.45,207.87 410.36,206.53 412.50,205.22 414.90,203.96 417.59,202.78 420.60,201.68 423.98,200.70 427.75,199.83 431.98,199.09 436.72,198.48 442.03,197.99 447.97,197.62 454.63,197.35 462.08,197.16 470.43,197.04 479.78,196.96 490.26,196.92 501.99,196.89 515.13,196.88 529.84,196.88 546.32,196.88 564.78,196.88 585.45,196.88 608.61,196.88 634.54,196.88 663.59,196.88 678.50,196.88" fill="none" stroke="#141414" stroke-width="1.55" stroke-linejoin="round"/>
<text x="392.10" y="250.5" font-size="10.4" fill="#262626" text-anchor="middle">0</text>
<text x="449.30" y="250.5" font-size="10.4" fill="#262626" text-anchor="middle">10</text>
<text x="506.50" y="250.5" font-size="10.4" fill="#262626" text-anchor="middle">20</text>
<text x="563.70" y="250.5" font-size="10.4" fill="#262626" text-anchor="middle">30</text>
<text x="620.90" y="250.5" font-size="10.4" fill="#262626" text-anchor="middle">40</text>
<text x="678.10" y="250.5" font-size="10.4" fill="#262626" text-anchor="middle">50</text>
<text x="388.90" y="241.10" font-size="10.4" fill="#262626" text-anchor="end">25</text>
<text x="388.90" y="200.97" font-size="10.4" fill="#262626" text-anchor="end">30</text>
<text x="388.90" y="160.85" font-size="10.4" fill="#262626" text-anchor="end">35</text>
<text x="388.90" y="120.72" font-size="10.4" fill="#262626" text-anchor="end">40</text>
<text x="388.90" y="80.60" font-size="10.4" fill="#262626" text-anchor="end">45</text>
<text x="388.90" y="40.48" font-size="10.4" fill="#262626" text-anchor="end">50</text>
<text x="535.00" y="265.2" font-size="11.4" letter-spacing="0.03" fill="#262626" text-anchor="middle">Time (Hours)</text>
<text transform="translate(372.2,197.1) rotate(-90)" font-size="11.3" fill="#262626" letter-spacing="0.24" word-spacing="-1.3">Water concentration (kg/m<tspan font-size="9" dy="-5.2">3</tspan><tspan dy="5.2">)</tspan></text>
<text x="539.8" y="47.0" font-size="11.6" fill="#cdc6ab">60 - 70% RH</text>
<text x="539.8" y="127.4" font-size="11.6" fill="#cdc6ab">50 - 60% RH</text>
<text x="539.8" y="173.9" font-size="11.6" fill="#cdc6ab">40 - 50% RH</text>
<text x="539.8" y="214.8" font-size="11.6" fill="#cdc6ab">30 - 40% RH</text>
<text transform="translate(660.1,42.75) scale(0.88,1)" font-size="11.2" font-weight="bold" fill="#000" stroke="#000" stroke-width="0">c</text><text transform="translate(665.9,45.55) scale(0.93,1)" font-size="8.4" fill="#000" stroke="#000" stroke-width="0.12">70</text>
<text transform="translate(660.1,123.3) scale(0.88,1)" font-size="11.9" font-weight="normal" fill="#000" stroke="#000" stroke-width="0.3">c</text><text transform="translate(665.9,126.1) scale(0.93,1)" font-size="8.4" fill="#000" stroke="#000" stroke-width="0.12">60</text>
<text transform="translate(660.1,171.3) scale(0.88,1)" font-size="11.2" font-weight="bold" fill="#000" stroke="#000" stroke-width="0">c</text><text transform="translate(665.9,174.10000000000002) scale(0.93,1)" font-size="8.4" fill="#000" stroke="#000" stroke-width="0.12">50</text>
<text transform="translate(660.1,215.0) scale(0.88,1)" font-size="11.2" font-weight="bold" fill="#000" stroke="#000" stroke-width="0">c</text><text transform="translate(665.9,217.8) scale(0.93,1)" font-size="8.4" fill="#000" stroke="#000" stroke-width="0.12">40</text>
<text x="431.8" y="104.6" font-size="11.6" fill="#000">D<tspan font-size="7.6" dy="2.7">eff</tspan><tspan dy="-2.7"> = 1.5·10</tspan><tspan font-size="7.4" dy="-4.1">-11</tspan><tspan dy="4.1"> m</tspan><tspan font-size="7.4" dy="-4.1">2</tspan><tspan dy="4.1">/s</tspan></text>
<text x="361.7" y="10.4" font-size="13" fill="#000">b</text>
</svg>
</body></html>
